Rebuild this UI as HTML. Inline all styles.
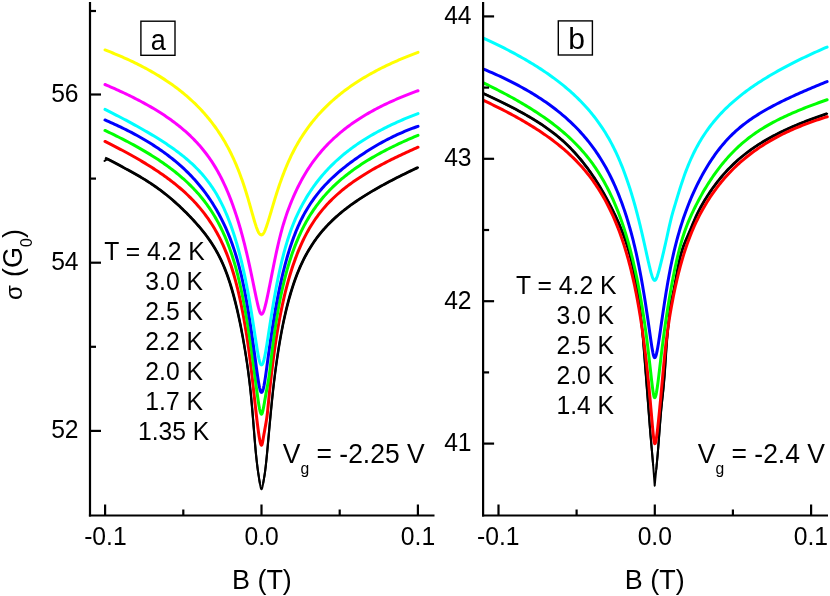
<!DOCTYPE html>
<html><head><meta charset="utf-8"><title>Magnetoconductance</title>
<style>
html,body{margin:0;padding:0;background:#fff;}
svg{display:block;}
text{font-family:"Liberation Sans",sans-serif;fill:#000;filter:grayscale(1);}
</style></head><body>
<svg width="830" height="596" viewBox="0 0 830 596">
<rect x="0" y="0" width="830" height="596" fill="#fff"/>

<g fill="none" stroke-width="3.0" stroke-linejoin="round" stroke-linecap="round">
<polyline points="104.50,161.00 105.60,160.20 106.70,159.40 107.80,158.90 108.91,159.71 110.85,160.66 112.78,161.66 114.69,162.69 116.59,163.71 118.48,164.73 120.35,165.78 122.22,166.83 124.07,167.87 125.91,168.87 127.73,169.85 129.55,170.83 131.35,171.81 133.14,172.80 134.91,173.80 136.68,174.80 138.43,175.81 140.17,176.83 141.89,177.85 143.61,178.88 145.31,179.93 147.00,180.98 148.68,182.05 150.34,183.14 152.00,184.24 153.64,185.35 155.27,186.48 156.88,187.62 158.49,188.78 160.08,189.95 161.65,191.13 163.22,192.33 164.77,193.54 166.32,194.77 167.85,196.01 169.36,197.26 170.87,198.52 172.36,199.79 173.84,201.08 175.30,202.38 176.76,203.69 178.20,205.01 179.63,206.33 181.05,207.67 182.45,209.02 183.85,210.38 185.23,211.74 186.60,213.11 187.95,214.49 189.29,215.87 190.63,217.26 191.94,218.65 193.25,220.05 194.54,221.46 195.83,222.88 197.09,224.30 198.35,225.74 199.60,227.19 200.83,228.66 202.05,230.14 203.25,231.64 204.45,233.16 205.63,234.70 206.80,236.26 207.96,237.85 209.10,239.46 210.24,241.10 211.36,242.78 212.47,244.49 213.56,246.23 214.64,248.02 215.72,249.84 216.77,251.71 217.82,253.63 218.85,255.60 219.88,257.61 220.88,259.69 221.88,261.82 222.87,264.02 223.84,266.28 224.80,268.61 225.74,271.02 226.68,273.50 227.60,276.06 228.51,278.69 229.41,281.39 230.29,284.16 231.17,287.01 232.03,289.93 232.88,292.91 233.71,295.96 234.53,299.08 235.35,302.26 236.14,305.50 236.93,308.80 237.70,312.15 238.47,315.56 239.21,319.03 239.95,322.55 240.68,326.12 241.39,329.74 242.09,333.42 242.77,337.15 243.45,340.93 244.11,344.76 244.76,348.64 245.40,352.57 246.02,356.54 246.64,360.57 247.24,364.67 247.83,368.85 248.40,373.14 248.96,377.55 249.52,382.10 250.05,386.82 250.58,391.71 251.09,396.80 251.60,402.10 252.08,407.59 252.56,413.19 253.03,418.82 253.48,424.43 253.92,429.93 254.34,435.26 254.76,440.35 255.16,445.13 255.55,449.55 255.93,453.57 256.29,457.20 256.65,460.49 256.99,463.47 257.32,466.17 257.63,468.62 257.93,470.85 258.23,472.88 258.50,474.73 258.77,476.45 259.02,478.06 259.27,479.56 259.49,480.97 259.71,482.28 259.92,483.49 260.11,484.58 260.29,485.55 260.45,486.39 260.61,487.10 260.75,487.68 260.88,488.14 261.00,488.50 261.10,488.76 261.20,488.94 261.28,489.06 261.35,489.13 261.40,489.17 261.44,489.19 261.48,489.20 261.49,489.20 261.50,489.20 261.51,489.20 261.52,489.20 261.56,489.19 261.60,489.17 261.65,489.13 261.72,489.06 261.80,488.94 261.90,488.76 262.00,488.50 262.12,488.15 262.25,487.70 262.39,487.13 262.55,486.44 262.71,485.63 262.89,484.71 263.08,483.68 263.29,482.56 263.51,481.34 263.73,480.04 263.98,478.65 264.23,477.15 264.50,475.50 264.77,473.66 265.07,471.57 265.37,469.19 265.68,466.52 266.01,463.56 266.35,460.32 266.71,456.81 267.07,453.05 267.45,449.04 267.84,444.82 268.24,440.41 268.66,435.83 269.08,431.10 269.52,426.26 269.97,421.34 270.44,416.35 270.92,411.33 271.40,406.31 271.91,401.31 272.42,396.37 272.95,391.49 273.48,386.69 274.04,381.96 274.60,377.30 275.17,372.72 275.76,368.22 276.36,363.80 276.98,359.47 277.60,355.21 278.24,351.04 278.89,346.94 279.55,342.93 280.23,339.00 280.91,335.15 281.61,331.38 282.32,327.70 283.05,324.09 283.79,320.56 284.53,317.10 285.30,313.73 286.07,310.42 286.86,307.20 287.65,304.04 288.47,300.96 289.29,297.95 290.12,295.01 290.97,292.14 291.83,289.33 292.71,286.59 293.59,283.92 294.49,281.31 295.40,278.76 296.32,276.28 297.26,273.86 298.20,271.49 299.16,269.18 300.13,266.93 301.12,264.74 302.12,262.60 303.12,260.50 304.15,258.46 305.18,256.47 306.23,254.52 307.28,252.61 308.36,250.75 309.44,248.93 310.53,247.15 311.64,245.40 312.76,243.70 313.90,242.02 315.04,240.39 316.20,238.78 317.37,237.21 318.55,235.66 319.75,234.15 320.95,232.66 322.17,231.21 323.40,229.77 324.65,228.36 325.91,226.98 327.17,225.62 328.46,224.28 329.75,222.96 331.06,221.66 332.37,220.39 333.71,219.13 335.05,217.88 336.40,216.66 337.77,215.45 339.15,214.26 340.55,213.08 341.95,211.92 343.37,210.77 344.80,209.64 346.24,208.52 347.70,207.41 349.16,206.31 350.64,205.22 352.13,204.15 353.64,203.08 355.15,202.02 356.68,200.98 358.23,199.94 359.78,198.91 361.35,197.88 362.92,196.87 364.51,195.86 366.12,194.86 367.73,193.86 369.36,192.87 371.00,191.89 372.66,190.91 374.32,189.94 376.00,188.97 377.69,188.01 379.39,187.05 381.11,186.09 382.83,185.14 384.57,184.19 386.32,183.24 388.09,182.30 389.86,181.36 391.65,180.42 393.45,179.49 395.27,178.55 397.09,177.62 398.93,176.69 400.78,175.76 402.65,174.83 404.52,173.91 406.41,172.98 408.31,172.06 410.22,171.13 412.15,170.21 414.09,169.28 416.04,168.36 418.00,167.44" stroke="#000000" stroke-width="2.0"/>
<polygon points="260.92,483.32 260.72,482.12 260.51,480.81 260.28,479.40 260.05,477.90 259.80,476.29 259.53,474.58 259.26,472.72 258.98,470.70 258.68,468.48 258.37,466.04 258.04,463.35 257.71,460.38 257.36,457.09 257.00,453.46 256.63,449.45 256.25,445.04 255.85,440.26 255.44,435.17 255.02,429.84 254.59,424.34 254.14,418.73 253.68,413.09 253.21,407.49 252.73,402.00 252.24,396.69 251.73,391.59 251.21,386.69 250.68,381.97 250.13,377.41 249.58,372.98 249.01,368.69 248.43,364.50 247.84,360.39 247.23,356.36 246.61,352.37 245.98,348.44 245.34,344.55 244.69,340.71 244.02,336.92 243.34,333.18 242.65,329.50 241.95,325.86 241.23,322.28 240.50,318.75 239.76,315.28 239.01,311.86 238.25,308.49 237.47,305.18 236.68,301.92 235.88,298.73 235.06,295.60 234.22,292.53 233.37,289.54 232.51,286.61 231.63,283.75 230.74,280.96 229.84,278.24 228.92,275.59 227.99,273.02 227.05,270.52 226.10,268.09 225.13,265.74 224.15,263.46 223.15,261.24 222.15,259.09 221.13,256.99 220.10,254.95 219.05,252.97 218.00,251.03 216.93,249.14 215.85,247.30 214.75,245.50 213.65,243.74 212.53,242.01 211.40,240.32 210.25,238.66 209.10,237.03 207.93,235.43 206.75,233.85 205.55,232.30 204.35,230.77 203.13,229.26 201.90,227.76 200.66,226.29 199.41,224.83 198.14,223.38 196.87,221.94 195.58,220.52 194.28,219.10 192.96,217.70 191.64,216.29 190.30,214.90 188.95,213.51 187.59,212.12 186.22,210.75 184.83,209.38 183.43,208.01 182.01,206.66 180.59,205.31 179.15,203.98 177.70,202.65 176.24,201.33 174.76,200.03 173.27,198.73 171.77,197.45 170.26,196.18 168.73,194.92 167.19,193.68 165.64,192.44 164.08,191.22 162.50,190.02 160.91,188.82 159.31,187.65 157.70,186.48 156.07,185.33 154.43,184.20 152.78,183.08 151.11,181.97 149.44,180.88 147.75,179.80 146.05,178.74 144.34,177.68 142.61,176.65 140.88,175.62 139.13,174.60 137.37,173.59 135.60,172.58 133.82,171.58 132.02,170.58 130.21,169.59 128.39,168.61 126.57,167.64 124.75,166.64 122.90,165.61 121.04,164.56 119.15,163.50 117.25,162.47 115.35,161.46 113.43,160.43 111.48,159.41 109.50,158.44 107.52,157.56 105.54,156.73 104.46,159.31 106.41,160.13 108.32,160.98 110.22,161.91 112.12,162.90 114.03,163.92 115.92,164.94 117.80,165.96 119.67,167.00 121.53,168.05 123.39,169.09 125.24,170.11 127.07,171.08 128.88,172.06 130.67,173.04 132.45,174.02 134.22,175.02 135.98,176.02 137.73,177.02 139.46,178.03 141.18,179.05 142.88,180.08 144.57,181.12 146.25,182.17 147.92,183.23 149.58,184.31 151.22,185.40 152.85,186.51 154.46,187.63 156.07,188.76 157.66,189.91 159.24,191.07 160.81,192.25 162.36,193.44 163.91,194.64 165.44,195.86 166.96,197.09 168.47,198.33 169.96,199.59 171.44,200.85 172.91,202.13 174.37,203.42 175.82,204.72 177.25,206.04 178.67,207.36 180.08,208.69 181.48,210.03 182.87,211.38 184.24,212.73 185.60,214.10 186.95,215.47 188.29,216.84 189.61,218.23 190.92,219.61 192.22,221.01 193.51,222.41 194.78,223.81 196.04,225.23 197.29,226.66 198.53,228.10 199.75,229.55 200.96,231.02 202.16,232.51 203.34,234.02 204.52,235.54 205.68,237.09 206.82,238.66 207.96,240.26 209.08,241.89 210.19,243.55 211.29,245.24 212.37,246.97 213.44,248.74 214.50,250.54 215.55,252.39 216.59,254.29 217.61,256.24 218.62,258.24 219.62,260.29 220.61,262.41 221.58,264.58 222.55,266.82 223.50,269.14 224.44,271.52 225.37,273.98 226.28,276.52 227.19,279.14 228.08,281.82 228.96,284.58 229.83,287.41 230.68,290.32 231.53,293.29 232.36,296.33 233.19,299.43 234.01,302.59 234.82,305.82 235.61,309.11 236.40,312.45 237.17,315.85 237.92,319.30 238.67,322.81 239.40,326.37 240.12,329.99 240.83,333.65 241.53,337.37 242.21,341.14 242.88,344.97 243.54,348.84 244.18,352.76 244.82,356.73 245.44,360.75 246.05,364.84 246.64,369.01 247.22,373.29 247.79,377.70 248.35,382.24 248.90,386.95 249.43,391.83 249.95,396.91 250.46,402.21 250.95,407.69 251.44,413.28 251.91,418.91 252.37,424.52 252.81,430.02 253.25,435.35 253.67,440.44 254.07,445.22 254.47,449.65 254.85,453.67 255.23,457.31 255.58,460.61 255.93,463.60 256.26,466.30 256.58,468.76 256.89,470.99 257.19,473.03 257.47,474.89 257.74,476.61 258.00,478.22 258.25,479.73 258.48,481.14 258.70,482.45 258.91,483.66" fill="#000000" stroke="none"/>
<polygon points="264.09,483.86 264.30,482.74 264.52,481.52 264.75,480.22 265.00,478.83 265.26,477.32 265.53,475.66 265.81,473.81 266.11,471.71 266.42,469.32 266.74,466.64 267.07,463.68 267.42,460.43 267.78,456.92 268.15,453.15 268.53,449.15 268.92,444.92 269.33,440.51 269.75,435.93 270.19,431.20 270.63,426.36 271.09,421.44 271.56,416.45 272.04,411.44 272.54,406.42 273.05,401.43 273.57,396.49 274.10,391.62 274.65,386.82 275.21,382.09 275.78,377.45 276.36,372.87 276.96,368.38 277.56,363.97 278.18,359.64 278.82,355.39 279.46,351.23 280.12,347.14 280.79,343.14 281.47,339.22 282.17,335.38 282.88,331.62 283.60,327.95 284.33,324.35 285.08,320.83 285.83,317.39 286.60,314.03 287.38,310.74 288.18,307.52 288.98,304.39 289.80,301.32 290.63,298.33 291.47,295.40 292.31,292.54 293.17,289.75 294.04,287.03 294.92,284.37 295.81,281.77 296.71,279.24 297.63,276.78 298.56,274.37 299.50,272.02 300.45,269.73 301.42,267.50 302.39,265.32 303.38,263.19 304.38,261.12 305.39,259.10 306.42,257.12 307.45,255.19 308.50,253.30 309.56,251.46 310.64,249.65 311.72,247.89 312.82,246.16 313.93,244.47 315.05,242.82 316.18,241.20 317.33,239.61 318.49,238.05 319.66,236.52 320.84,235.03 322.03,233.55 323.24,232.11 324.46,230.69 325.69,229.30 326.94,227.93 328.19,226.58 329.46,225.25 330.74,223.95 332.04,222.66 333.34,221.40 334.66,220.15 335.99,218.92 337.34,217.70 338.69,216.51 340.06,215.33 341.44,214.16 342.84,213.01 344.24,211.87 345.66,210.74 347.10,209.63 348.54,208.53 350.00,207.43 351.47,206.35 352.95,205.29 354.44,204.23 355.95,203.18 357.47,202.13 359.00,201.10 360.55,200.08 362.11,199.06 363.68,198.05 365.26,197.04 366.86,196.05 368.46,195.06 370.09,194.07 371.72,193.09 373.36,192.12 375.02,191.15 376.69,190.18 378.38,189.22 380.07,188.27 381.78,187.32 383.51,186.37 385.24,185.42 386.99,184.48 388.75,183.54 390.52,182.60 392.30,181.66 394.10,180.73 395.91,179.80 397.73,178.87 399.56,177.94 401.41,177.01 403.27,176.09 405.14,175.16 407.03,174.24 408.92,173.32 410.83,172.39 412.75,171.47 414.69,170.55 416.64,169.63 418.60,168.70 417.40,166.17 415.44,167.09 413.49,168.02 411.55,168.94 409.62,169.87 407.70,170.80 405.80,171.72 403.91,172.65 402.03,173.58 400.16,174.51 398.30,175.44 396.46,176.37 394.63,177.31 392.81,178.24 391.01,179.18 389.21,180.12 387.43,181.06 385.66,182.01 383.90,182.96 382.16,183.91 380.43,184.87 378.71,185.83 377.00,186.79 375.30,187.76 373.62,188.73 371.95,189.71 370.29,190.69 368.64,191.68 367.00,192.67 365.38,193.67 363.77,194.67 362.17,195.69 360.58,196.71 359.01,197.74 357.45,198.77 355.90,199.82 354.36,200.87 352.83,201.93 351.32,203.01 349.82,204.09 348.33,205.19 346.85,206.29 345.39,207.41 343.93,208.54 342.49,209.68 341.06,210.84 339.65,212.01 338.24,213.20 336.85,214.40 335.47,215.62 334.10,216.85 332.75,218.10 331.41,219.37 330.07,220.66 328.76,221.97 327.45,223.30 326.16,224.66 324.87,226.03 323.61,227.43 322.35,228.85 321.10,230.30 319.87,231.77 318.65,233.28 317.45,234.81 316.25,236.36 315.07,237.95 313.90,239.58 312.74,241.23 311.60,242.92 310.47,244.64 309.35,246.40 308.24,248.20 307.15,250.04 306.07,251.92 305.00,253.85 303.94,255.81 302.90,257.83 301.87,259.89 300.85,262.00 299.85,264.16 298.85,266.37 297.87,268.64 296.91,270.96 295.95,273.34 295.01,275.78 294.08,278.29 293.17,280.85 292.26,283.47 291.37,286.16 290.50,288.91 289.63,291.73 288.78,294.62 287.94,297.57 287.13,300.60 286.32,303.70 285.53,306.87 284.76,310.11 283.99,313.43 283.24,316.82 282.50,320.28 281.77,323.82 281.05,327.45 280.35,331.15 279.66,334.92 278.98,338.78 278.31,342.72 277.66,346.74 277.01,350.84 276.38,355.03 275.77,359.29 275.16,363.64 274.57,368.06 273.99,372.57 273.42,377.15 272.86,381.82 272.32,386.55 271.79,391.37 271.27,396.25 270.76,401.20 270.27,406.20 269.79,411.22 269.32,416.24 268.86,421.23 268.41,426.16 267.98,431.00 267.56,435.73 267.15,440.31 266.75,444.72 266.37,448.94 266.00,452.94 265.64,456.71 265.29,460.21 264.95,463.45 264.63,466.40 264.32,469.07 264.02,471.43 263.74,473.51 263.47,475.34 263.20,476.98 262.96,478.48 262.72,479.87 262.49,481.16 262.28,482.37 262.08,483.50" fill="#000000" stroke="none"/>
<polyline points="105.00,141.46 106.96,142.43 108.91,143.41 110.85,144.38 112.78,145.36 114.69,146.34 116.59,147.33 118.48,148.31 120.35,149.30 122.22,150.28 124.07,151.27 125.91,152.27 127.73,153.26 129.55,154.26 131.35,155.26 133.14,156.26 134.91,157.27 136.68,158.28 138.43,159.30 140.17,160.31 141.89,161.34 143.61,162.36 145.31,163.39 147.00,164.43 148.68,165.47 150.34,166.51 152.00,167.56 153.64,168.62 155.27,169.68 156.88,170.75 158.49,171.83 160.08,172.91 161.65,174.00 163.22,175.10 164.77,176.20 166.32,177.32 167.85,178.44 169.36,179.57 170.87,180.71 172.36,181.86 173.84,183.02 175.30,184.19 176.76,185.37 178.20,186.56 179.63,187.77 181.05,188.99 182.45,190.22 183.85,191.46 185.23,192.72 186.60,193.99 187.95,195.27 189.29,196.58 190.63,197.90 191.94,199.23 193.25,200.58 194.54,201.96 195.83,203.35 197.09,204.75 198.35,206.18 199.60,207.64 200.83,209.11 202.05,210.60 203.25,212.12 204.45,213.67 205.63,215.24 206.80,216.83 207.96,218.45 209.10,220.11 210.24,221.79 211.36,223.50 212.47,225.24 213.56,227.01 214.64,228.82 215.72,230.67 216.77,232.55 217.82,234.46 218.85,236.42 219.88,238.42 220.88,240.45 221.88,242.53 222.87,244.66 223.84,246.83 224.80,249.05 225.74,251.32 226.68,253.64 227.60,256.01 228.51,258.44 229.41,260.93 230.29,263.47 231.17,266.07 232.03,268.74 232.88,271.46 233.71,274.26 234.53,277.12 235.35,280.04 236.14,283.03 236.93,286.08 237.70,289.20 238.47,292.38 239.21,295.62 239.95,298.92 240.68,302.28 241.39,305.70 242.09,309.18 242.77,312.72 243.45,316.31 244.11,319.96 244.76,323.66 245.40,327.42 246.02,331.24 246.64,335.11 247.24,339.03 247.83,343.01 248.40,347.05 248.96,351.14 249.52,355.28 250.05,359.47 250.58,363.71 251.09,367.96 251.60,372.22 252.08,376.47 252.56,380.69 253.03,384.86 253.48,388.97 253.92,393.00 254.34,396.92 254.76,400.72 255.16,404.39 255.55,407.92 255.93,411.29 256.29,414.50 256.65,417.54 256.99,420.42 257.32,423.12 257.63,425.65 257.93,428.00 258.23,430.18 258.50,432.20 258.77,434.04 259.02,435.72 259.27,437.24 259.49,438.60 259.71,439.81 259.92,440.86 260.11,441.77 260.29,442.55 260.45,443.19 260.61,443.72 260.75,444.14 260.88,444.47 261.00,444.72 261.10,444.90 261.20,445.02 261.28,445.10 261.35,445.15 261.40,445.18 261.44,445.19 261.48,445.20 261.49,445.20 261.50,445.20 261.51,445.20 261.52,445.20 261.56,445.19 261.60,445.17 261.65,445.13 261.72,445.05 261.80,444.92 261.90,444.72 262.00,444.44 262.12,444.06 262.25,443.57 262.39,442.96 262.55,442.22 262.71,441.36 262.89,440.37 263.08,439.28 263.29,438.09 263.51,436.82 263.73,435.48 263.98,434.09 264.23,432.65 264.50,431.16 264.77,429.63 265.07,428.04 265.37,426.38 265.68,424.63 266.01,422.78 266.35,420.75 266.71,418.45 267.07,415.78 267.45,412.63 267.84,408.95 268.24,404.88 268.66,400.57 269.08,396.18 269.52,391.80 269.97,387.43 270.44,383.08 270.92,378.76 271.40,374.47 271.91,370.21 272.42,365.99 272.95,361.81 273.48,357.67 274.04,353.58 274.60,349.53 275.17,345.54 275.76,341.60 276.36,337.71 276.98,333.87 277.60,330.09 278.24,326.36 278.89,322.69 279.55,319.08 280.23,315.53 280.91,312.03 281.61,308.59 282.32,305.20 283.05,301.88 283.79,298.61 284.53,295.40 285.30,292.24 286.07,289.14 286.86,286.10 287.65,283.11 288.47,280.18 289.29,277.30 290.12,274.47 290.97,271.70 291.83,268.98 292.71,266.32 293.59,263.70 294.49,261.14 295.40,258.63 296.32,256.16 297.26,253.75 298.20,251.38 299.16,249.06 300.13,246.79 301.12,244.56 302.12,242.38 303.12,240.25 304.15,238.16 305.18,236.11 306.23,234.11 307.28,232.14 308.36,230.22 309.44,228.34 310.53,226.50 311.64,224.71 312.76,222.94 313.90,221.22 315.04,219.53 316.20,217.88 317.37,216.26 318.55,214.67 319.75,213.11 320.95,211.58 322.17,210.09 323.40,208.61 324.65,207.17 325.91,205.75 327.17,204.36 328.46,202.99 329.75,201.64 331.06,200.32 332.37,199.01 333.71,197.73 335.05,196.47 336.40,195.23 337.77,194.00 339.15,192.79 340.55,191.60 341.95,190.43 343.37,189.27 344.80,188.13 346.24,187.00 347.70,185.89 349.16,184.79 350.64,183.70 352.13,182.62 353.64,181.56 355.15,180.51 356.68,179.47 358.23,178.44 359.78,177.42 361.35,176.41 362.92,175.40 364.51,174.41 366.12,173.43 367.73,172.45 369.36,171.48 371.00,170.52 372.66,169.57 374.32,168.62 376.00,167.68 377.69,166.74 379.39,165.82 381.11,164.89 382.83,163.97 384.57,163.06 386.32,162.15 388.09,161.25 389.86,160.35 391.65,159.45 393.45,158.56 395.27,157.67 397.09,156.79 398.93,155.91 400.78,155.03 402.65,154.15 404.52,153.28 406.41,152.41 408.31,151.54 410.22,150.67 412.15,149.81 414.09,148.94 416.04,148.08 418.00,147.22" stroke="#ff0000"/>
<polyline points="105.00,130.47 106.96,131.40 108.91,132.33 110.85,133.27 112.78,134.20 114.69,135.14 116.59,136.08 118.48,137.02 120.35,137.97 122.22,138.92 124.07,139.87 125.91,140.83 127.73,141.79 129.55,142.75 131.35,143.72 133.14,144.69 134.91,145.66 136.68,146.64 138.43,147.62 140.17,148.61 141.89,149.61 143.61,150.60 145.31,151.61 147.00,152.62 148.68,153.63 150.34,154.65 152.00,155.68 153.64,156.72 155.27,157.76 156.88,158.80 158.49,159.86 160.08,160.92 161.65,161.99 163.22,163.07 164.77,164.16 166.32,165.26 167.85,166.36 169.36,167.48 170.87,168.60 172.36,169.74 173.84,170.89 175.30,172.04 176.76,173.21 178.20,174.39 179.63,175.58 181.05,176.79 182.45,178.01 183.85,179.24 185.23,180.49 186.60,181.75 187.95,183.03 189.29,184.32 190.63,185.63 191.94,186.95 193.25,188.30 194.54,189.66 195.83,191.04 197.09,192.44 198.35,193.86 199.60,195.30 200.83,196.76 202.05,198.25 203.25,199.76 204.45,201.29 205.63,202.84 206.80,204.43 207.96,206.03 209.10,207.67 210.24,209.33 211.36,211.03 212.47,212.75 213.56,214.50 214.64,216.29 215.72,218.11 216.77,219.97 217.82,221.86 218.85,223.79 219.88,225.75 220.88,227.76 221.88,229.80 222.87,231.89 223.84,234.02 224.80,236.20 225.74,238.42 226.68,240.68 227.60,243.00 228.51,245.36 229.41,247.77 230.29,250.24 231.17,252.76 232.03,255.33 232.88,257.96 233.71,260.64 234.53,263.39 235.35,266.19 236.14,269.06 236.93,271.99 237.70,274.98 238.47,278.03 239.21,281.14 239.95,284.31 240.68,287.53 241.39,290.81 242.09,294.13 242.77,297.51 243.45,300.92 244.11,304.38 244.76,307.88 245.40,311.40 246.02,314.96 246.64,318.54 247.24,322.15 247.83,325.77 248.40,329.40 248.96,333.04 249.52,336.68 250.05,340.31 250.58,343.94 251.09,347.55 251.60,351.13 252.08,354.68 252.56,358.20 253.03,361.68 253.48,365.10 253.92,368.45 254.34,371.74 254.76,374.95 255.16,378.07 255.55,381.09 255.93,384.01 256.29,386.82 256.65,389.50 256.99,392.06 257.32,394.48 257.63,396.76 257.93,398.90 258.23,400.88 258.50,402.72 258.77,404.40 259.02,405.92 259.27,407.29 259.49,408.51 259.71,409.58 259.92,410.51 260.11,411.30 260.29,411.97 260.45,412.52 260.61,412.97 260.75,413.33 260.88,413.60 261.00,413.80 261.10,413.95 261.20,414.05 261.28,414.12 261.35,414.16 261.40,414.18 261.44,414.20 261.48,414.20 261.49,414.20 261.50,414.20 261.51,414.20 261.52,414.20 261.56,414.19 261.60,414.18 261.65,414.15 261.72,414.10 261.80,414.01 261.90,413.88 262.00,413.69 262.12,413.43 262.25,413.08 262.39,412.64 262.55,412.10 262.71,411.44 262.89,410.67 263.08,409.77 263.29,408.76 263.51,407.64 263.73,406.41 263.98,405.08 264.23,403.65 264.50,402.14 264.77,400.54 265.07,398.88 265.37,397.16 265.68,395.38 266.01,393.55 266.35,391.67 266.71,389.75 267.07,387.79 267.45,385.79 267.84,383.73 268.24,381.53 268.66,379.10 269.08,376.35 269.52,373.20 269.97,369.59 270.44,365.63 270.92,361.42 271.40,357.10 271.91,352.77 272.42,348.50 272.95,344.29 273.48,340.14 274.04,336.05 274.60,332.03 275.17,328.07 275.76,324.18 276.36,320.35 276.98,316.59 277.60,312.89 278.24,309.26 278.89,305.70 279.55,302.20 280.23,298.77 280.91,295.41 281.61,292.10 282.32,288.86 283.05,285.69 283.79,282.57 284.53,279.52 285.30,276.53 286.07,273.59 286.86,270.71 287.65,267.89 288.47,265.13 289.29,262.42 290.12,259.76 290.97,257.16 291.83,254.60 292.71,252.10 293.59,249.65 294.49,247.25 295.40,244.89 296.32,242.58 297.26,240.31 298.20,238.09 299.16,235.92 300.13,233.78 301.12,231.69 302.12,229.64 303.12,227.63 304.15,225.65 305.18,223.72 306.23,221.82 307.28,219.95 308.36,218.13 309.44,216.33 310.53,214.57 311.64,212.84 312.76,211.14 313.90,209.47 315.04,207.82 316.20,206.21 317.37,204.62 318.55,203.06 319.75,201.53 320.95,200.02 322.17,198.54 323.40,197.07 324.65,195.63 325.91,194.22 327.17,192.82 328.46,191.45 329.75,190.09 331.06,188.76 332.37,187.44 333.71,186.15 335.05,184.87 336.40,183.60 337.77,182.36 339.15,181.13 340.55,179.92 341.95,178.72 343.37,177.54 344.80,176.37 346.24,175.22 347.70,174.08 349.16,172.95 350.64,171.83 352.13,170.73 353.64,169.64 355.15,168.57 356.68,167.50 358.23,166.45 359.78,165.40 361.35,164.37 362.92,163.34 364.51,162.33 366.12,161.33 367.73,160.33 369.36,159.35 371.00,158.37 372.66,157.40 374.32,156.44 376.00,155.49 377.69,154.54 379.39,153.61 381.11,152.68 382.83,151.75 384.57,150.84 386.32,149.93 388.09,149.03 389.86,148.13 391.65,147.24 393.45,146.35 395.27,145.48 397.09,144.60 398.93,143.73 400.78,142.87 402.65,142.01 404.52,141.16 406.41,140.31 408.31,139.47 410.22,138.63 412.15,137.80 414.09,136.97 416.04,136.14 418.00,135.32" stroke="#00ff00"/>
<polyline points="105.00,119.98 106.96,120.82 108.91,121.68 110.85,122.54 112.78,123.40 114.69,124.27 116.59,125.15 118.48,126.04 120.35,126.93 122.22,127.83 124.07,128.74 125.91,129.65 127.73,130.57 129.55,131.50 131.35,132.44 133.14,133.38 134.91,134.33 136.68,135.29 138.43,136.26 140.17,137.24 141.89,138.22 143.61,139.22 145.31,140.22 147.00,141.23 148.68,142.25 150.34,143.28 152.00,144.32 153.64,145.37 155.27,146.43 156.88,147.50 158.49,148.58 160.08,149.67 161.65,150.77 163.22,151.88 164.77,153.00 166.32,154.14 167.85,155.29 169.36,156.44 170.87,157.61 172.36,158.79 173.84,159.99 175.30,161.20 176.76,162.42 178.20,163.65 179.63,164.90 181.05,166.16 182.45,167.43 183.85,168.72 185.23,170.03 186.60,171.35 187.95,172.68 189.29,174.03 190.63,175.40 191.94,176.78 193.25,178.18 194.54,179.60 195.83,181.03 197.09,182.49 198.35,183.96 199.60,185.45 200.83,186.95 202.05,188.48 203.25,190.03 204.45,191.60 205.63,193.19 206.80,194.80 207.96,196.43 209.10,198.08 210.24,199.76 211.36,201.46 212.47,203.18 213.56,204.93 214.64,206.70 215.72,208.50 216.77,210.32 217.82,212.17 218.85,214.04 219.88,215.95 220.88,217.88 221.88,219.84 222.87,221.83 223.84,223.85 224.80,225.90 225.74,227.98 226.68,230.10 227.60,232.25 228.51,234.43 229.41,236.65 230.29,238.91 231.17,241.21 232.03,243.56 232.88,245.95 233.71,248.38 234.53,250.86 235.35,253.40 236.14,255.98 236.93,258.62 237.70,261.32 238.47,264.07 239.21,266.88 239.95,269.76 240.68,272.70 241.39,275.71 242.09,278.77 242.77,281.90 243.45,285.07 244.11,288.30 244.76,291.57 245.40,294.88 246.02,298.24 246.64,301.62 247.24,305.04 247.83,308.48 248.40,311.93 248.96,315.40 249.52,318.88 250.05,322.35 250.58,325.82 251.09,329.27 251.60,332.70 252.08,336.11 252.56,339.48 253.03,342.81 253.48,346.08 253.92,349.30 254.34,352.45 254.76,355.52 255.16,358.51 255.55,361.41 255.93,364.21 256.29,366.89 256.65,369.45 256.99,371.89 257.32,374.20 257.63,376.36 257.93,378.38 258.23,380.25 258.50,381.96 258.77,383.53 259.02,384.94 259.27,386.20 259.49,387.32 259.71,388.29 259.92,389.13 260.11,389.85 260.29,390.44 260.45,390.93 260.61,391.33 260.75,391.64 260.88,391.88 261.00,392.06 261.10,392.19 261.20,392.27 261.28,392.33 261.35,392.37 261.40,392.39 261.44,392.40 261.48,392.40 261.49,392.40 261.50,392.40 261.51,392.40 261.52,392.40 261.56,392.40 261.60,392.39 261.65,392.37 261.72,392.34 261.80,392.29 261.90,392.22 262.00,392.11 262.12,391.96 262.25,391.76 262.39,391.49 262.55,391.16 262.71,390.73 262.89,390.21 263.08,389.57 263.29,388.82 263.51,387.93 263.73,386.90 263.98,385.72 264.23,384.38 264.50,382.88 264.77,381.21 265.07,379.38 265.37,377.38 265.68,375.23 266.01,372.93 266.35,370.48 266.71,367.90 267.07,365.20 267.45,362.39 267.84,359.48 268.24,356.50 268.66,353.45 269.08,350.34 269.52,347.18 269.97,343.99 270.44,340.75 270.92,337.49 271.40,334.20 271.91,330.89 272.42,327.57 272.95,324.24 273.48,320.91 274.04,317.57 274.60,314.24 275.17,310.91 275.76,307.60 276.36,304.30 276.98,301.02 277.60,297.76 278.24,294.52 278.89,291.31 279.55,288.13 280.23,284.98 280.91,281.85 281.61,278.77 282.32,275.72 283.05,272.71 283.79,269.74 284.53,266.80 285.30,263.91 286.07,261.07 286.86,258.27 287.65,255.51 288.47,252.80 289.29,250.13 290.12,247.52 290.97,244.95 291.83,242.43 292.71,239.95 293.59,237.53 294.49,235.16 295.40,232.83 296.32,230.56 297.26,228.34 298.20,226.17 299.16,224.04 300.13,221.97 301.12,219.94 302.12,217.96 303.12,216.02 304.15,214.12 305.18,212.27 306.23,210.45 307.28,208.67 308.36,206.92 309.44,205.21 310.53,203.53 311.64,201.89 312.76,200.28 313.90,198.69 315.04,197.13 316.20,195.61 317.37,194.10 318.55,192.63 319.75,191.17 320.95,189.74 322.17,188.33 323.40,186.95 324.65,185.58 325.91,184.24 327.17,182.91 328.46,181.60 329.75,180.31 331.06,179.03 332.37,177.77 333.71,176.53 335.05,175.30 336.40,174.08 337.77,172.88 339.15,171.69 340.55,170.51 341.95,169.35 343.37,168.19 344.80,167.05 346.24,165.91 347.70,164.78 349.16,163.67 350.64,162.56 352.13,161.46 353.64,160.37 355.15,159.28 356.68,158.20 358.23,157.13 359.78,156.07 361.35,155.01 362.92,153.95 364.51,152.90 366.12,151.86 367.73,150.83 369.36,149.80 371.00,148.78 372.66,147.77 374.32,146.77 376.00,145.77 377.69,144.79 379.39,143.82 381.11,142.85 382.83,141.90 384.57,140.96 386.32,140.04 388.09,139.12 389.86,138.22 391.65,137.33 393.45,136.45 395.27,135.59 397.09,134.73 398.93,133.90 400.78,133.08 402.65,132.27 404.52,131.48 406.41,130.70 408.31,129.93 410.22,129.19 412.15,128.45 414.09,127.74 416.04,127.03 418.00,126.35" stroke="#0000ff"/>
<polyline points="105.00,109.36 106.96,110.36 108.91,111.35 110.85,112.34 112.78,113.33 114.69,114.32 116.59,115.30 118.48,116.29 120.35,117.27 122.22,118.25 124.07,119.23 125.91,120.20 127.73,121.18 129.55,122.15 131.35,123.13 133.14,124.10 134.91,125.08 136.68,126.05 138.43,127.02 140.17,128.00 141.89,128.97 143.61,129.95 145.31,130.93 147.00,131.90 148.68,132.88 150.34,133.87 152.00,134.85 153.64,135.84 155.27,136.83 156.88,137.82 158.49,138.81 160.08,139.81 161.65,140.82 163.22,141.83 164.77,142.84 166.32,143.86 167.85,144.89 169.36,145.92 170.87,146.96 172.36,148.00 173.84,149.06 175.30,150.12 176.76,151.19 178.20,152.27 179.63,153.36 181.05,154.46 182.45,155.57 183.85,156.70 185.23,157.83 186.60,158.98 187.95,160.14 189.29,161.32 190.63,162.51 191.94,163.72 193.25,164.95 194.54,166.19 195.83,167.46 197.09,168.74 198.35,170.04 199.60,171.36 200.83,172.71 202.05,174.08 203.25,175.48 204.45,176.90 205.63,178.34 206.80,179.82 207.96,181.32 209.10,182.86 210.24,184.43 211.36,186.03 212.47,187.66 213.56,189.33 214.64,191.04 215.72,192.79 216.77,194.58 217.82,196.40 218.85,198.27 219.88,200.18 220.88,202.13 221.88,204.12 222.87,206.15 223.84,208.22 224.80,210.34 225.74,212.49 226.68,214.69 227.60,216.93 228.51,219.21 229.41,221.53 230.29,223.89 231.17,226.30 232.03,228.75 232.88,231.23 233.71,233.76 234.53,236.33 235.35,238.94 236.14,241.59 236.93,244.27 237.70,247.00 238.47,249.76 239.21,252.56 239.95,255.39 240.68,258.26 241.39,261.16 242.09,264.10 242.77,267.06 243.45,270.05 244.11,273.07 244.76,276.11 245.40,279.18 246.02,282.27 246.64,285.37 247.24,288.48 247.83,291.61 248.40,294.74 248.96,297.88 249.52,301.02 250.05,304.15 250.58,307.27 251.09,310.38 251.60,313.47 252.08,316.53 252.56,319.55 253.03,322.54 253.48,325.47 253.92,328.34 254.34,331.14 254.76,333.87 255.16,336.51 255.55,339.06 255.93,341.51 256.29,343.84 256.65,346.07 256.99,348.16 257.32,350.13 257.63,351.97 257.93,353.67 258.23,355.23 258.50,356.65 258.77,357.93 259.02,359.08 259.27,360.09 259.49,360.98 259.71,361.75 259.92,362.41 260.11,362.96 260.29,363.42 260.45,363.79 260.61,364.09 260.75,364.33 260.88,364.51 261.00,364.64 261.10,364.74 261.20,364.81 261.28,364.85 261.35,364.88 261.40,364.89 261.44,364.90 261.48,364.90 261.49,364.90 261.50,364.90 261.51,364.90 261.52,364.90 261.56,364.90 261.60,364.89 261.65,364.88 261.72,364.86 261.80,364.82 261.90,364.76 262.00,364.67 262.12,364.56 262.25,364.40 262.39,364.19 262.55,363.93 262.71,363.60 262.89,363.19 263.08,362.70 263.29,362.11 263.51,361.43 263.73,360.63 263.98,359.71 264.23,358.67 264.50,357.50 264.77,356.20 265.07,354.75 265.37,353.17 265.68,351.45 266.01,349.60 266.35,347.61 266.71,345.48 267.07,343.23 267.45,340.86 267.84,338.38 268.24,335.79 268.66,333.10 269.08,330.32 269.52,327.46 269.97,324.52 270.44,321.53 270.92,318.48 271.40,315.38 271.91,312.26 272.42,309.10 272.95,305.93 273.48,302.74 274.04,299.54 274.60,296.34 275.17,293.14 275.76,289.95 276.36,286.77 276.98,283.60 277.60,280.45 278.24,277.33 278.89,274.23 279.55,271.16 280.23,268.12 280.91,265.12 281.61,262.15 282.32,259.22 283.05,256.34 283.79,253.49 284.53,250.70 285.30,247.95 286.07,245.24 286.86,242.59 287.65,239.99 288.47,237.44 289.29,234.94 290.12,232.49 290.97,230.10 291.83,227.76 292.71,225.48 293.59,223.25 294.49,221.07 295.40,218.94 296.32,216.85 297.26,214.80 298.20,212.79 299.16,210.82 300.13,208.88 301.12,206.97 302.12,205.09 303.12,203.25 304.15,201.42 305.18,199.63 306.23,197.86 307.28,196.11 308.36,194.39 309.44,192.70 310.53,191.03 311.64,189.38 312.76,187.76 313.90,186.16 315.04,184.58 316.20,183.02 317.37,181.49 318.55,179.97 319.75,178.48 320.95,177.01 322.17,175.55 323.40,174.12 324.65,172.70 325.91,171.31 327.17,169.93 328.46,168.57 329.75,167.23 331.06,165.90 332.37,164.59 333.71,163.30 335.05,162.02 336.40,160.76 337.77,159.52 339.15,158.29 340.55,157.08 341.95,155.88 343.37,154.69 344.80,153.52 346.24,152.37 347.70,151.23 349.16,150.10 350.64,148.98 352.13,147.88 353.64,146.79 355.15,145.71 356.68,144.64 358.23,143.59 359.78,142.55 361.35,141.52 362.92,140.50 364.51,139.49 366.12,138.49 367.73,137.50 369.36,136.53 371.00,135.56 372.66,134.61 374.32,133.66 376.00,132.72 377.69,131.80 379.39,130.88 381.11,129.97 382.83,129.07 384.57,128.18 386.32,127.30 388.09,126.43 389.86,125.57 391.65,124.71 393.45,123.87 395.27,123.03 397.09,122.20 398.93,121.37 400.78,120.56 402.65,119.75 404.52,118.95 406.41,118.16 408.31,117.37 410.22,116.59 412.15,115.82 414.09,115.05 416.04,114.29 418.00,113.54" stroke="#00ffff"/>
<polyline points="105.00,84.50 106.96,85.33 108.91,86.17 110.85,87.01 112.78,87.85 114.69,88.70 116.59,89.55 118.48,90.41 120.35,91.27 122.22,92.13 124.07,93.00 125.91,93.87 127.73,94.75 129.55,95.63 131.35,96.51 133.14,97.41 134.91,98.30 136.68,99.21 138.43,100.12 140.17,101.03 141.89,101.95 143.61,102.88 145.31,103.81 147.00,104.75 148.68,105.70 150.34,106.65 152.00,107.61 153.64,108.58 155.27,109.56 156.88,110.55 158.49,111.54 160.08,112.54 161.65,113.56 163.22,114.58 164.77,115.61 166.32,116.65 167.85,117.70 169.36,118.76 170.87,119.83 172.36,120.92 173.84,122.01 175.30,123.12 176.76,124.24 178.20,125.37 179.63,126.52 181.05,127.68 182.45,128.85 183.85,130.04 185.23,131.24 186.60,132.46 187.95,133.70 189.29,134.95 190.63,136.21 191.94,137.50 193.25,138.80 194.54,140.13 195.83,141.47 197.09,142.83 198.35,144.21 199.60,145.61 200.83,147.04 202.05,148.48 203.25,149.95 204.45,151.45 205.63,152.97 206.80,154.51 207.96,156.08 209.10,157.68 210.24,159.31 211.36,160.96 212.47,162.64 213.56,164.36 214.64,166.10 215.72,167.88 216.77,169.69 217.82,171.54 218.85,173.42 219.88,175.32 220.88,177.27 221.88,179.24 222.87,181.24 223.84,183.28 224.80,185.35 225.74,187.45 226.68,189.58 227.60,191.74 228.51,193.93 229.41,196.14 230.29,198.39 231.17,200.66 232.03,202.96 232.88,205.29 233.71,207.64 234.53,210.02 235.35,212.42 236.14,214.85 236.93,217.29 237.70,219.76 238.47,222.24 239.21,224.74 239.95,227.26 240.68,229.79 241.39,232.34 242.09,234.89 242.77,237.46 243.45,240.03 244.11,242.61 244.76,245.19 245.40,247.77 246.02,250.34 246.64,252.92 247.24,255.48 247.83,258.03 248.40,260.57 248.96,263.10 249.52,265.60 250.05,268.08 250.58,270.53 251.09,272.95 251.60,275.34 252.08,277.68 252.56,279.99 253.03,282.24 253.48,284.45 253.92,286.60 254.34,288.69 254.76,290.71 255.16,292.67 255.55,294.55 255.93,296.36 256.29,298.09 256.65,299.73 256.99,301.29 257.32,302.75 257.63,304.13 257.93,305.40 258.23,306.58 258.50,307.67 258.77,308.65 259.02,309.54 259.27,310.33 259.49,311.03 259.71,311.64 259.92,312.16 260.11,312.61 260.29,312.98 260.45,313.29 260.61,313.53 260.75,313.73 260.88,313.88 261.00,313.99 261.10,314.07 261.20,314.12 261.28,314.16 261.35,314.18 261.40,314.19 261.44,314.20 261.48,314.20 261.49,314.20 261.50,314.20 261.51,314.20 261.52,314.20 261.56,314.20 261.60,314.19 261.65,314.18 261.72,314.17 261.80,314.14 261.90,314.09 262.00,314.03 262.12,313.94 262.25,313.82 262.39,313.66 262.55,313.46 262.71,313.20 262.89,312.90 263.08,312.53 263.29,312.08 263.51,311.57 263.73,310.97 263.98,310.29 264.23,309.51 264.50,308.64 264.77,307.68 265.07,306.61 265.37,305.45 265.68,304.18 266.01,302.81 266.35,301.34 266.71,299.78 267.07,298.11 267.45,296.35 267.84,294.49 268.24,292.55 268.66,290.52 269.08,288.40 269.52,286.21 269.97,283.94 270.44,281.59 270.92,279.18 271.40,276.71 271.91,274.17 272.42,271.58 272.95,268.94 273.48,266.25 274.04,263.53 274.60,260.77 275.17,257.99 275.76,255.19 276.36,252.39 276.98,249.59 277.60,246.80 278.24,244.02 278.89,241.26 279.55,238.52 280.23,235.82 280.91,233.16 281.61,230.54 282.32,227.97 283.05,225.45 283.79,222.98 284.53,220.57 285.30,218.19 286.07,215.87 286.86,213.58 287.65,211.33 288.47,209.11 289.29,206.93 290.12,204.77 290.97,202.64 291.83,200.54 292.71,198.46 293.59,196.41 294.49,194.37 295.40,192.37 296.32,190.38 297.26,188.42 298.20,186.49 299.16,184.58 300.13,182.70 301.12,180.85 302.12,179.02 303.12,177.23 304.15,175.45 305.18,173.71 306.23,171.99 307.28,170.29 308.36,168.62 309.44,166.97 310.53,165.35 311.64,163.75 312.76,162.18 313.90,160.62 315.04,159.09 316.20,157.58 317.37,156.09 318.55,154.62 319.75,153.17 320.95,151.74 322.17,150.34 323.40,148.95 324.65,147.57 325.91,146.22 327.17,144.89 328.46,143.57 329.75,142.27 331.06,140.99 332.37,139.72 333.71,138.47 335.05,137.24 336.40,136.02 337.77,134.82 339.15,133.63 340.55,132.46 341.95,131.30 343.37,130.16 344.80,129.03 346.24,127.91 347.70,126.81 349.16,125.72 350.64,124.65 352.13,123.58 353.64,122.53 355.15,121.49 356.68,120.47 358.23,119.45 359.78,118.45 361.35,117.46 362.92,116.48 364.51,115.51 366.12,114.55 367.73,113.60 369.36,112.67 371.00,111.74 372.66,110.82 374.32,109.91 376.00,109.02 377.69,108.13 379.39,107.25 381.11,106.38 382.83,105.52 384.57,104.67 386.32,103.83 388.09,103.00 389.86,102.17 391.65,101.35 393.45,100.55 395.27,99.75 397.09,98.95 398.93,98.17 400.78,97.39 402.65,96.62 404.52,95.86 406.41,95.10 408.31,94.36 410.22,93.62 412.15,92.88 414.09,92.16 416.04,91.44 418.00,90.72" stroke="#ff00ff"/>
<polyline points="105.00,49.94 106.96,50.70 108.91,51.46 110.85,52.22 112.78,53.00 114.69,53.78 116.59,54.57 118.48,55.36 120.35,56.16 122.22,56.97 124.07,57.78 125.91,58.60 127.73,59.43 129.55,60.26 131.35,61.11 133.14,61.96 134.91,62.81 136.68,63.68 138.43,64.55 140.17,65.43 141.89,66.32 143.61,67.22 145.31,68.12 147.00,69.03 148.68,69.95 150.34,70.88 152.00,71.82 153.64,72.76 155.27,73.72 156.88,74.68 158.49,75.65 160.08,76.63 161.65,77.62 163.22,78.62 164.77,79.63 166.32,80.65 167.85,81.68 169.36,82.72 170.87,83.76 172.36,84.82 173.84,85.89 175.30,86.96 176.76,88.05 178.20,89.15 179.63,90.26 181.05,91.38 182.45,92.51 183.85,93.65 185.23,94.81 186.60,95.97 187.95,97.15 189.29,98.33 190.63,99.53 191.94,100.74 193.25,101.97 194.54,103.20 195.83,104.45 197.09,105.71 198.35,106.99 199.60,108.27 200.83,109.57 202.05,110.89 203.25,112.21 204.45,113.55 205.63,114.91 206.80,116.28 207.96,117.66 209.10,119.06 210.24,120.47 211.36,121.89 212.47,123.33 213.56,124.79 214.64,126.26 215.72,127.75 216.77,129.25 217.82,130.77 218.85,132.30 219.88,133.86 220.88,135.42 221.88,137.01 222.87,138.61 223.84,140.22 224.80,141.86 225.74,143.51 226.68,145.18 227.60,146.86 228.51,148.57 229.41,150.29 230.29,152.03 231.17,153.78 232.03,155.56 232.88,157.35 233.71,159.16 234.53,160.99 235.35,162.84 236.14,164.70 236.93,166.58 237.70,168.48 238.47,170.38 239.21,172.30 239.95,174.24 240.68,176.18 241.39,178.14 242.09,180.10 242.77,182.07 243.45,184.05 244.11,186.04 244.76,188.02 245.40,190.01 246.02,192.00 246.64,193.99 247.24,195.97 247.83,197.94 248.40,199.89 248.96,201.83 249.52,203.74 250.05,205.63 250.58,207.49 251.09,209.31 251.60,211.09 252.08,212.83 252.56,214.52 253.03,216.16 253.48,217.74 253.92,219.26 254.34,220.71 254.76,222.10 255.16,223.41 255.55,224.65 255.93,225.81 256.29,226.90 256.65,227.90 256.99,228.82 257.32,229.66 257.63,230.42 257.93,231.10 258.23,231.71 258.50,232.24 258.77,232.71 259.02,233.11 259.27,233.46 259.49,233.75 259.71,233.99 259.92,234.20 260.11,234.36 260.29,234.49 260.45,234.60 260.61,234.68 260.75,234.75 260.88,234.80 261.00,234.83 261.10,234.86 261.20,234.88 261.28,234.89 261.35,234.89 261.40,234.90 261.44,234.90 261.48,234.90 261.49,234.90 261.50,234.90 261.51,234.90 261.52,234.90 261.56,234.90 261.60,234.90 261.65,234.89 261.72,234.88 261.80,234.86 261.90,234.84 262.00,234.80 262.12,234.75 262.25,234.68 262.39,234.59 262.55,234.47 262.71,234.32 262.89,234.14 263.08,233.92 263.29,233.65 263.51,233.34 263.73,232.98 263.98,232.56 264.23,232.09 264.50,231.55 264.77,230.94 265.07,230.27 265.37,229.53 265.68,228.72 266.01,227.84 266.35,226.89 266.71,225.87 267.07,224.78 267.45,223.63 267.84,222.41 268.24,221.12 268.66,219.78 269.08,218.37 269.52,216.91 269.97,215.40 270.44,213.83 270.92,212.22 271.40,210.57 271.91,208.88 272.42,207.15 272.95,205.38 273.48,203.58 274.04,201.76 274.60,199.91 275.17,198.04 275.76,196.15 276.36,194.25 276.98,192.33 277.60,190.40 278.24,188.47 278.89,186.52 279.55,184.58 280.23,182.63 280.91,180.68 281.61,178.74 282.32,176.80 283.05,174.87 283.79,172.94 284.53,171.03 285.30,169.13 286.07,167.23 286.86,165.36 287.65,163.50 288.47,161.65 289.29,159.83 290.12,158.02 290.97,156.23 291.83,154.46 292.71,152.71 293.59,150.97 294.49,149.26 295.40,147.56 296.32,145.89 297.26,144.23 298.20,142.58 299.16,140.96 300.13,139.35 301.12,137.77 302.12,136.19 303.12,134.64 304.15,133.10 305.18,131.58 306.23,130.08 307.28,128.59 308.36,127.12 309.44,125.66 310.53,124.22 311.64,122.79 312.76,121.38 313.90,119.99 315.04,118.61 316.20,117.25 317.37,115.89 318.55,114.56 319.75,113.24 320.95,111.93 322.17,110.63 323.40,109.35 324.65,108.09 325.91,106.83 327.17,105.59 328.46,104.36 329.75,103.15 331.06,101.94 332.37,100.75 333.71,99.58 335.05,98.41 336.40,97.25 337.77,96.11 339.15,94.98 340.55,93.86 341.95,92.75 343.37,91.65 344.80,90.57 346.24,89.49 347.70,88.43 349.16,87.37 350.64,86.33 352.13,85.29 353.64,84.27 355.15,83.25 356.68,82.25 358.23,81.26 359.78,80.27 361.35,79.29 362.92,78.33 364.51,77.37 366.12,76.42 367.73,75.48 369.36,74.55 371.00,73.63 372.66,72.72 374.32,71.81 376.00,70.92 377.69,70.03 379.39,69.15 381.11,68.27 382.83,67.41 384.57,66.55 386.32,65.71 388.09,64.87 389.86,64.03 391.65,63.21 393.45,62.39 395.27,61.58 397.09,60.77 398.93,59.98 400.78,59.19 402.65,58.40 404.52,57.63 406.41,56.86 408.31,56.10 410.22,55.34 412.15,54.59 414.09,53.85 416.04,53.11 418.00,52.38" stroke="#ffff00"/>
</g>
<clipPath id="cr"><rect x="482" y="0" width="347" height="520"/></clipPath>
<g fill="none" stroke-width="3.0" stroke-linejoin="round" stroke-linecap="round" clip-path="url(#cr)">
<polyline points="481.20,92.46 483.38,93.46 485.54,94.46 487.69,95.46 489.82,96.46 491.94,97.46 494.05,98.46 496.14,99.46 498.22,100.46 500.29,101.46 502.34,102.47 504.38,103.48 506.40,104.49 508.41,105.51 510.41,106.53 512.39,107.55 514.36,108.58 516.32,109.61 518.26,110.65 520.19,111.69 522.10,112.74 524.00,113.80 525.89,114.87 527.76,115.94 529.62,117.03 531.47,118.12 533.30,119.23 535.12,120.34 536.93,121.47 538.72,122.61 540.50,123.76 542.26,124.93 544.01,126.11 545.75,127.31 547.47,128.52 549.18,129.76 550.87,131.01 552.55,132.28 554.22,133.57 555.87,134.88 557.52,136.22 559.14,137.58 560.75,138.96 562.35,140.37 563.94,141.81 565.51,143.27 567.07,144.75 568.61,146.27 570.14,147.80 571.66,149.37 573.16,150.95 574.65,152.57 576.13,154.20 577.59,155.86 579.04,157.55 580.47,159.26 581.89,160.99 583.30,162.75 584.69,164.53 586.07,166.34 587.44,168.16 588.79,170.01 590.13,171.89 591.45,173.78 592.76,175.69 594.06,177.63 595.34,179.58 596.61,181.56 597.87,183.55 599.11,185.56 600.34,187.59 601.55,189.63 602.76,191.70 603.94,193.77 605.12,195.86 606.28,197.97 607.42,200.09 608.55,202.21 609.67,204.35 610.78,206.50 611.87,208.66 612.95,210.82 614.01,212.99 615.06,215.18 616.10,217.38 617.12,219.60 618.13,221.85 619.12,224.12 620.10,226.42 621.07,228.76 622.03,231.14 622.97,233.57 623.89,236.04 624.81,238.58 625.70,241.17 626.59,243.83 627.46,246.56 628.32,249.37 629.16,252.26 629.99,255.25 630.81,258.33 631.61,261.52 632.40,264.82 633.18,268.25 633.94,271.80 634.69,275.49 635.42,279.32 636.14,283.30 636.85,287.45 637.54,291.77 638.22,296.27 638.89,300.96 639.54,305.86 640.18,310.98 640.80,316.36 641.41,322.00 642.01,327.92 642.59,334.15 643.16,340.66 643.72,347.37 644.26,354.17 644.79,360.97 645.30,367.67 645.81,374.18 646.29,380.49 646.77,386.62 647.23,392.57 647.67,398.36 648.10,404.01 648.52,409.51 648.93,414.88 649.32,420.08 649.70,425.03 650.06,429.64 650.41,433.87 650.75,437.77 651.07,441.39 651.38,444.81 651.67,448.09 651.95,451.25 652.22,454.30 652.48,457.24 652.72,460.06 652.94,462.77 653.16,465.35 653.35,467.80 653.54,470.13 653.71,472.31 653.87,474.35 654.01,476.25 654.14,477.99 654.26,479.56 654.36,480.97 654.45,482.21 654.53,483.26 654.59,484.13 654.64,484.82 654.67,485.31 654.69,485.60 654.70,485.70 654.71,485.62 654.73,485.38 654.76,484.99 654.81,484.45 654.87,483.75 654.95,482.92 655.03,481.95 655.14,480.85 655.25,479.62 655.38,478.27 655.53,476.80 655.68,475.21 655.85,473.48 656.04,471.63 656.23,469.64 656.45,467.49 656.67,465.18 656.91,462.68 657.16,459.98 657.43,457.04 657.71,453.86 658.00,450.39 658.31,446.62 658.63,442.51 658.96,438.08 659.31,433.39 659.67,428.54 660.05,423.59 660.44,418.66 660.84,413.82 661.25,409.18 661.68,404.82 662.13,400.65 662.58,396.46 663.05,392.05 663.54,387.21 664.04,381.73 664.55,375.41 665.07,368.05 665.61,359.72 666.16,351.16 666.73,343.20 667.31,336.25 667.90,329.82 668.51,323.47 669.13,317.32 669.76,311.59 670.41,306.48 671.07,302.20 671.75,298.87 672.44,296.06 673.14,293.13 673.86,289.73 674.59,285.94 675.33,281.88 676.09,277.65 676.86,273.36 677.64,269.11 678.44,264.99 679.25,261.09 680.07,257.49 680.91,254.24 681.77,251.28 682.63,248.58 683.51,246.08 684.41,243.74 685.31,241.51 686.23,239.35 687.17,237.22 688.11,235.08 689.08,232.89 690.05,230.63 691.04,228.27 692.04,225.85 693.06,223.39 694.09,220.94 695.13,218.51 696.19,216.14 697.26,213.86 698.34,211.66 699.44,209.53 700.55,207.46 701.68,205.45 702.82,203.47 703.97,201.52 705.14,199.60 706.32,197.70 707.51,195.82 708.72,193.97 709.94,192.14 711.17,190.34 712.42,188.55 713.68,186.80 714.96,185.07 716.24,183.36 717.55,181.68 718.86,180.02 720.19,178.38 721.54,176.77 722.89,175.19 724.26,173.62 725.65,172.09 727.05,170.57 728.46,169.08 729.88,167.61 731.32,166.17 732.77,164.75 734.24,163.36 735.72,161.99 737.21,160.64 738.72,159.31 740.24,158.01 741.78,156.73 743.32,155.47 744.89,154.23 746.46,153.01 748.05,151.81 749.65,150.63 751.27,149.47 752.90,148.33 754.54,147.20 756.20,146.09 757.87,145.00 759.55,143.92 761.25,142.86 762.96,141.81 764.69,140.78 766.43,139.77 768.18,138.76 769.95,137.77 771.73,136.80 773.52,135.84 775.33,134.89 777.15,133.95 778.98,133.02 780.83,132.11 782.69,131.21 784.57,130.31 786.46,129.43 788.36,128.56 790.28,127.70 792.21,126.85 794.15,126.01 796.11,125.18 798.08,124.36 800.06,123.54 802.06,122.74 804.07,121.94 806.10,121.15 808.14,120.37 810.19,119.60 812.25,118.83 814.33,118.07 816.43,117.32 818.53,116.58 820.66,115.84 822.79,115.11 824.94,114.38 827.10,113.66" stroke="#000000" stroke-width="2.0"/>
<polygon points="654.17,465.26 653.96,462.68 653.74,459.97 653.50,457.15 653.25,454.21 652.99,451.16 652.71,447.99 652.42,444.72 652.12,441.30 651.80,437.67 651.47,433.78 651.12,429.56 650.77,424.95 650.39,420.00 650.01,414.80 649.61,409.43 649.20,403.92 648.77,398.28 648.33,392.49 647.88,386.53 647.41,380.40 646.93,374.09 646.44,367.58 645.93,360.89 645.41,354.08 644.87,347.28 644.32,340.56 643.76,334.05 643.19,327.81 642.60,321.87 641.99,316.22 641.38,310.84 640.75,305.70 640.10,300.79 639.44,296.09 638.77,291.58 638.09,287.25 637.39,283.09 636.68,279.09 635.95,275.24 635.21,271.53 634.45,267.97 633.69,264.53 632.90,261.21 632.11,258.00 631.30,254.89 630.48,251.89 629.64,248.97 628.79,246.14 627.92,243.39 627.03,240.72 626.13,238.11 625.21,235.56 624.27,233.07 623.33,230.63 622.37,228.23 621.40,225.88 620.41,223.56 619.41,221.28 618.39,219.02 617.37,216.79 616.32,214.58 615.27,212.38 614.20,210.20 613.12,208.03 612.02,205.86 610.92,203.71 609.79,201.56 608.66,199.42 607.50,197.30 606.34,195.18 605.16,193.08 603.97,191.00 602.76,188.92 601.54,186.87 600.31,184.83 599.06,182.81 597.79,180.80 596.52,178.82 595.23,176.85 593.92,174.91 592.60,172.98 591.27,171.08 589.92,169.19 588.56,167.33 587.19,165.49 585.80,163.68 584.40,161.88 582.98,160.11 581.55,158.37 580.10,156.64 578.65,154.95 577.17,153.27 575.69,151.62 574.18,150.00 572.67,148.40 571.14,146.82 569.60,145.27 568.04,143.75 566.47,142.25 564.89,140.78 563.29,139.33 561.67,137.91 560.05,136.51 558.41,135.14 556.75,133.79 555.08,132.47 553.40,131.17 551.71,129.89 550.00,128.63 548.28,127.39 546.55,126.16 544.80,124.96 543.04,123.77 541.26,122.59 539.47,121.43 537.67,120.29 535.86,119.15 534.03,118.03 532.19,116.92 530.33,115.82 528.47,114.73 526.58,113.65 524.69,112.58 522.78,111.52 520.86,110.46 518.92,109.42 516.97,108.37 515.01,107.34 513.04,106.31 511.05,105.28 509.04,104.26 507.03,103.24 505.00,102.23 502.96,101.22 500.90,100.21 498.83,99.20 496.75,98.20 494.65,97.19 492.54,96.19 490.42,95.19 488.28,94.19 486.13,93.19 483.96,92.19 481.79,91.18 480.61,93.73 482.79,94.73 484.95,95.73 487.09,96.72 489.22,97.72 491.34,98.72 493.44,99.72 495.53,100.72 497.61,101.72 499.67,102.72 501.72,103.73 503.75,104.73 505.77,105.74 507.78,106.76 509.77,107.77 511.75,108.79 513.71,109.82 515.66,110.85 517.60,111.88 519.52,112.92 521.43,113.97 523.32,115.02 525.20,116.09 527.06,117.16 528.91,118.24 530.75,119.32 532.58,120.42 534.38,121.53 536.18,122.65 537.96,123.79 539.73,124.93 541.48,126.09 543.22,127.27 544.94,128.46 546.65,129.66 548.35,130.89 550.03,132.13 551.70,133.39 553.36,134.67 555.00,135.97 556.62,137.30 558.24,138.65 559.84,140.02 561.42,141.42 562.99,142.84 564.55,144.29 566.10,145.76 567.63,147.26 569.14,148.79 570.65,150.33 572.14,151.91 573.62,153.51 575.08,155.13 576.53,156.78 577.97,158.46 579.39,160.15 580.80,161.88 582.20,163.62 583.58,165.39 584.95,167.18 586.31,169.00 587.65,170.83 588.98,172.69 590.30,174.58 591.60,176.48 592.89,178.40 594.17,180.34 595.43,182.31 596.68,184.29 597.92,186.29 599.14,188.31 600.35,190.34 601.54,192.39 602.72,194.46 603.89,196.54 605.05,198.64 606.19,200.75 607.32,202.87 608.43,205.00 609.53,207.14 610.62,209.28 611.69,211.44 612.75,213.60 613.80,215.78 614.83,217.97 615.84,220.18 616.85,222.41 617.84,224.67 618.81,226.96 619.78,229.29 620.72,231.66 621.66,234.07 622.58,236.53 623.49,239.04 624.38,241.62 625.26,244.26 626.14,246.97 627.00,249.76 627.85,252.64 628.69,255.60 629.51,258.67 630.32,261.84 631.12,265.12 631.90,268.53 632.67,272.06 633.43,275.74 634.17,279.55 634.90,283.52 635.61,287.66 636.31,291.96 637.00,296.45 637.67,301.12 638.33,306.01 638.98,311.13 639.61,316.49 640.23,322.12 640.83,328.04 641.43,334.26 642.00,340.76 642.57,347.46 643.12,354.26 643.65,361.06 644.17,367.76 644.68,374.26 645.18,380.58 645.66,386.70 646.12,392.66 646.58,398.45 647.01,404.09 647.44,409.59 647.85,414.96 648.25,420.17 648.63,425.11 649.00,429.73 649.35,433.96 649.69,437.86 650.02,441.49 650.34,444.91 650.63,448.18 650.92,451.34 651.19,454.39 651.45,457.33 651.69,460.15 651.92,462.85 652.14,465.43" fill="#000000" stroke="none"/>
<polygon points="657.25,469.74 657.47,467.59 657.69,465.28 657.94,462.78 658.19,460.07 658.46,457.14 658.75,453.95 659.04,450.48 659.36,446.71 659.68,442.59 660.02,438.16 660.37,433.47 660.74,428.62 661.12,423.68 661.51,418.75 661.92,413.92 662.34,409.29 662.78,404.93 663.23,400.77 663.69,396.58 664.17,392.16 664.66,387.31 665.16,381.82 665.68,375.50 666.22,368.13 666.76,359.80 667.32,351.24 667.90,343.29 668.48,336.35 669.09,329.93 669.70,323.59 670.33,317.45 670.97,311.73 671.62,306.65 672.29,302.41 672.96,299.14 673.66,296.36 674.37,293.40 675.10,289.98 675.85,286.18 676.60,282.11 677.37,277.88 678.15,273.60 678.94,269.36 679.75,265.26 680.57,261.38 681.40,257.81 682.24,254.60 683.09,251.69 683.96,249.03 684.83,246.57 685.71,244.25 686.60,242.05 687.52,239.90 688.45,237.78 689.40,235.64 690.36,233.45 691.34,231.18 692.33,228.81 693.34,226.38 694.35,223.93 695.38,221.49 696.41,219.07 697.46,216.72 698.52,214.46 699.59,212.29 700.68,210.18 701.78,208.14 702.90,206.14 704.03,204.18 705.17,202.24 706.33,200.33 707.50,198.44 708.69,196.58 709.88,194.74 711.10,192.92 712.32,191.13 713.56,189.36 714.81,187.62 716.08,185.90 717.36,184.21 718.65,182.54 719.95,180.89 721.27,179.27 722.61,177.68 723.95,176.10 725.31,174.55 726.68,173.03 728.07,171.53 729.47,170.05 730.88,168.60 732.31,167.17 733.75,165.76 735.20,164.38 736.67,163.02 738.15,161.68 739.64,160.37 741.15,159.08 742.67,157.81 744.20,156.56 745.75,155.33 747.31,154.12 748.89,152.93 750.48,151.76 752.08,150.61 753.70,149.48 755.33,148.36 756.97,147.26 758.63,146.17 760.30,145.10 761.99,144.05 763.69,143.01 765.40,141.99 767.13,140.98 768.87,139.98 770.63,139.00 772.39,138.03 774.18,137.07 775.97,136.13 777.78,135.20 779.61,134.28 781.45,133.37 783.30,132.47 785.16,131.58 787.04,130.70 788.94,129.84 790.84,128.98 792.77,128.13 794.70,127.30 796.65,126.47 798.61,125.65 800.59,124.84 802.58,124.04 804.58,123.24 806.60,122.46 808.63,121.68 810.68,120.91 812.74,120.14 814.81,119.39 816.90,118.64 819.00,117.90 821.11,117.16 823.24,116.43 825.38,115.71 827.54,114.99 826.66,112.34 824.49,113.06 822.34,113.78 820.20,114.51 818.07,115.25 815.96,116.00 813.86,116.75 811.77,117.52 809.70,118.28 807.64,119.06 805.59,119.84 803.56,120.64 801.54,121.44 799.53,122.24 797.54,123.06 795.56,123.89 793.60,124.72 791.64,125.57 789.71,126.42 787.78,127.29 785.87,128.16 783.97,129.05 782.09,129.94 780.21,130.85 778.36,131.77 776.51,132.70 774.68,133.65 772.86,134.60 771.06,135.57 769.27,136.55 767.49,137.55 765.73,138.55 763.98,139.58 762.24,140.62 760.52,141.67 758.81,142.74 757.11,143.82 755.43,144.92 753.76,146.04 752.10,147.17 750.46,148.33 748.83,149.50 747.21,150.69 745.61,151.90 744.02,153.13 742.45,154.38 740.89,155.65 739.34,156.94 737.80,158.25 736.28,159.59 734.78,160.95 733.28,162.34 731.80,163.75 730.34,165.18 728.89,166.63 727.45,168.11 726.02,169.61 724.61,171.14 723.22,172.69 721.84,174.27 720.47,175.87 719.11,177.49 717.77,179.14 716.45,180.81 715.13,182.51 713.83,184.23 712.55,185.98 711.28,187.74 710.02,189.54 708.78,191.36 707.55,193.20 706.33,195.06 705.13,196.95 703.94,198.87 702.77,200.80 701.61,202.76 700.46,204.76 699.33,206.79 698.20,208.88 697.09,211.03 696.00,213.25 694.92,215.56 693.85,217.95 692.80,220.39 691.77,222.86 690.75,225.31 689.75,227.73 688.76,230.08 687.79,232.33 686.83,234.51 685.89,236.65 684.95,238.79 684.02,240.97 683.10,243.23 682.20,245.60 681.31,248.14 680.44,250.88 679.59,253.88 678.75,257.17 677.93,260.80 677.13,264.73 676.34,268.87 675.56,273.13 674.80,277.42 674.05,281.65 673.32,285.70 672.61,289.47 671.91,292.85 671.22,295.77 670.53,298.60 669.86,301.99 669.20,306.31 668.56,311.44 667.93,317.20 667.32,323.36 666.72,329.70 666.13,336.14 665.56,343.11 665.00,351.08 664.46,359.65 663.93,367.98 663.41,375.32 662.91,381.63 662.42,387.10 661.94,391.93 661.48,396.34 661.03,400.53 660.59,404.71 660.16,409.08 659.75,413.73 659.36,418.57 658.97,423.51 658.60,428.46 658.25,433.31 657.90,438.00 657.57,442.43 657.26,446.54 656.96,450.31 656.67,453.77 656.39,456.95 656.13,459.88 655.88,462.58 655.65,465.08 655.43,467.39 655.22,469.54" fill="#000000" stroke="none"/>
<polyline points="481.35,99.41 483.53,100.42 485.69,101.43 487.84,102.45 489.97,103.47 492.09,104.50 494.20,105.53 496.29,106.56 498.37,107.59 500.44,108.63 502.49,109.68 504.53,110.72 506.55,111.78 508.56,112.84 510.56,113.90 512.54,114.97 514.51,116.04 516.47,117.12 518.41,118.20 520.34,119.30 522.25,120.39 524.15,121.50 526.04,122.61 527.91,123.73 529.77,124.85 531.62,125.99 533.45,127.13 535.27,128.28 537.08,129.44 538.87,130.61 540.65,131.78 542.41,132.97 544.16,134.17 545.90,135.38 547.62,136.60 549.33,137.82 551.02,139.07 552.70,140.32 554.37,141.59 556.02,142.86 557.67,144.16 559.29,145.46 560.90,146.78 562.50,148.12 564.09,149.47 565.66,150.84 567.22,152.22 568.76,153.62 570.29,155.04 571.81,156.48 573.31,157.93 574.80,159.41 576.28,160.90 577.74,162.42 579.19,163.96 580.62,165.52 582.04,167.11 583.45,168.72 584.84,170.35 586.22,172.01 587.59,173.70 588.94,175.41 590.28,177.15 591.60,178.92 592.91,180.72 594.21,182.55 595.49,184.40 596.76,186.29 598.02,188.21 599.26,190.16 600.49,192.14 601.70,194.15 602.91,196.20 604.09,198.28 605.27,200.39 606.43,202.54 607.57,204.73 608.70,206.95 609.82,209.21 610.93,211.50 612.02,213.84 613.10,216.21 614.16,218.62 615.21,221.08 616.25,223.57 617.27,226.11 618.28,228.69 619.27,231.32 620.25,233.98 621.22,236.70 622.18,239.45 623.12,242.26 624.04,245.11 624.96,248.01 625.85,250.96 626.74,253.96 627.61,257.01 628.47,260.11 629.31,263.26 630.14,266.46 630.96,269.72 631.76,273.03 632.55,276.39 633.33,279.80 634.09,283.26 634.84,286.78 635.57,290.36 636.29,293.98 637.00,297.66 637.69,301.39 638.37,305.17 639.04,309.00 639.69,312.88 640.33,316.81 640.95,320.79 641.56,324.81 642.16,328.88 642.74,332.99 643.31,337.14 643.87,341.33 644.41,345.56 644.94,349.81 645.45,354.09 645.96,358.39 646.44,362.70 646.92,367.02 647.38,371.33 647.82,375.63 648.25,379.91 648.67,384.16 649.08,388.37 649.47,392.53 649.85,396.62 650.21,400.63 650.56,404.56 650.90,408.37 651.22,412.06 651.53,415.62 651.82,419.01 652.10,422.23 652.37,425.26 652.63,428.08 652.87,430.67 653.09,433.02 653.31,435.11 653.50,436.95 653.69,438.52 653.86,439.84 654.02,440.92 654.16,441.77 654.29,442.41 654.41,442.89 654.51,443.22 654.60,443.44 654.68,443.57 654.74,443.65 654.79,443.68 654.82,443.70 654.84,443.70 654.85,443.70 654.86,443.70 654.88,443.70 654.91,443.69 654.96,443.67 655.02,443.62 655.10,443.54 655.18,443.41 655.29,443.21 655.40,442.92 655.53,442.52 655.68,441.99 655.83,441.32 656.00,440.48 656.19,439.46 656.38,438.25 656.60,436.85 656.82,435.23 657.06,433.41 657.31,431.37 657.58,429.12 657.86,426.65 658.15,423.97 658.46,421.07 658.78,417.96 659.11,414.64 659.46,411.11 659.82,407.38 660.20,403.44 660.59,399.30 660.99,394.96 661.40,390.43 661.83,385.71 662.28,380.81 662.73,375.78 663.20,370.65 663.69,365.48 664.19,360.30 664.70,355.17 665.22,350.14 665.76,345.23 666.31,340.50 666.88,335.94 667.46,331.54 668.05,327.29 668.66,323.17 669.28,319.16 669.91,315.26 670.56,311.45 671.22,307.71 671.90,304.03 672.59,300.41 673.29,296.82 674.01,293.27 674.74,289.77 675.48,286.30 676.24,282.89 677.01,279.53 677.79,276.22 678.59,272.96 679.40,269.76 680.22,266.62 681.06,263.53 681.92,260.51 682.78,257.55 683.66,254.64 684.56,251.80 685.46,249.02 686.38,246.29 687.32,243.62 688.26,240.99 689.23,238.42 690.20,235.90 691.19,233.43 692.19,231.00 693.21,228.62 694.24,226.27 695.28,223.98 696.34,221.72 697.41,219.49 698.49,217.31 699.59,215.16 700.70,213.05 701.83,210.97 702.97,208.93 704.12,206.91 705.29,204.93 706.47,202.97 707.66,201.04 708.87,199.14 710.09,197.27 711.32,195.42 712.57,193.60 713.83,191.81 715.11,190.04 716.39,188.30 717.70,186.58 719.01,184.88 720.34,183.22 721.69,181.57 723.04,179.95 724.41,178.35 725.80,176.77 727.20,175.22 728.61,173.69 730.03,172.18 731.47,170.70 732.92,169.23 734.39,167.79 735.87,166.37 737.36,164.96 738.87,163.58 740.39,162.22 741.93,160.88 743.47,159.56 745.04,158.26 746.61,156.97 748.20,155.71 749.80,154.46 751.42,153.24 753.05,152.03 754.69,150.84 756.35,149.66 758.02,148.51 759.70,147.37 761.40,146.25 763.11,145.14 764.84,144.05 766.58,142.98 768.33,141.92 770.10,140.88 771.88,139.86 773.67,138.85 775.48,137.86 777.30,136.88 779.13,135.91 780.98,134.96 782.84,134.03 784.72,133.11 786.61,132.20 788.51,131.31 790.43,130.43 792.36,129.57 794.30,128.71 796.26,127.88 798.23,127.05 800.21,126.24 802.21,125.44 804.22,124.65 806.25,123.88 808.29,123.12 810.34,122.37 812.40,121.63 814.48,120.90 816.58,120.19 818.68,119.49 820.81,118.79 822.94,118.11 825.09,117.44 827.25,116.79" stroke="#ff0000"/>
<polyline points="481.20,81.80 483.38,82.85 485.54,83.89 487.69,84.95 489.82,86.00 491.94,87.05 494.05,88.11 496.14,89.18 498.22,90.24 500.29,91.31 502.34,92.38 504.38,93.46 506.40,94.54 508.41,95.62 510.41,96.71 512.39,97.81 514.36,98.90 516.32,100.01 518.26,101.11 520.19,102.23 522.10,103.35 524.00,104.47 525.89,105.61 527.76,106.74 529.62,107.89 531.47,109.04 533.30,110.20 535.12,111.37 536.93,112.54 538.72,113.73 540.50,114.92 542.26,116.12 544.01,117.33 545.75,118.55 547.47,119.78 549.18,121.02 550.87,122.28 552.55,123.54 554.22,124.82 555.87,126.10 557.52,127.40 559.14,128.72 560.75,130.04 562.35,131.39 563.94,132.74 565.51,134.11 567.07,135.50 568.61,136.91 570.14,138.33 571.66,139.77 573.16,141.22 574.65,142.70 576.13,144.20 577.59,145.71 579.04,147.25 580.47,148.81 581.89,150.40 583.30,152.00 584.69,153.63 586.07,155.29 587.44,156.97 588.79,158.68 590.13,160.42 591.45,162.19 592.76,163.99 594.06,165.82 595.34,167.67 596.61,169.56 597.87,171.48 599.11,173.44 600.34,175.42 601.55,177.44 602.76,179.49 603.94,181.57 605.12,183.69 606.28,185.84 607.42,188.03 608.55,190.25 609.67,192.50 610.78,194.80 611.87,197.13 612.95,199.49 614.01,201.90 615.06,204.34 616.10,206.81 617.12,209.33 618.13,211.89 619.12,214.48 620.10,217.12 621.07,219.79 622.03,222.51 622.97,225.26 623.89,228.06 624.81,230.89 625.70,233.77 626.59,236.69 627.46,239.65 628.32,242.65 629.16,245.69 629.99,248.76 630.81,251.88 631.61,255.04 632.40,258.23 633.18,261.47 633.94,264.73 634.69,268.04 635.42,271.37 636.14,274.74 636.85,278.14 637.54,281.57 638.22,285.03 638.89,288.52 639.54,292.03 640.18,295.56 640.80,299.11 641.41,302.68 642.01,306.26 642.59,309.86 643.16,313.47 643.72,317.09 644.26,320.72 644.79,324.36 645.30,327.99 645.81,331.63 646.29,335.27 646.77,338.89 647.23,342.51 647.67,346.10 648.10,349.67 648.52,353.20 648.93,356.68 649.32,360.09 649.70,363.42 650.06,366.65 650.41,369.77 650.75,372.77 651.07,375.63 651.38,378.34 651.67,380.89 651.95,383.26 652.22,385.45 652.48,387.45 652.72,389.26 652.94,390.86 653.16,392.26 653.35,393.47 653.54,394.49 653.71,395.32 653.87,396.00 654.01,396.52 654.14,396.92 654.26,397.21 654.36,397.41 654.45,397.55 654.53,397.63 654.59,397.67 654.64,397.69 654.67,397.70 654.69,397.70 654.70,397.70 654.71,397.70 654.73,397.70 654.76,397.69 654.81,397.68 654.87,397.65 654.95,397.59 655.03,397.49 655.14,397.35 655.25,397.14 655.38,396.85 655.53,396.47 655.68,395.98 655.85,395.35 656.04,394.58 656.23,393.66 656.45,392.56 656.67,391.29 656.91,389.83 657.16,388.18 657.43,386.34 657.71,384.31 658.00,382.09 658.31,379.68 658.63,377.11 658.96,374.36 659.31,371.46 659.67,368.42 660.05,365.25 660.44,361.96 660.84,358.58 661.25,355.11 661.68,351.57 662.13,347.98 662.58,344.35 663.05,340.70 663.54,337.03 664.04,333.35 664.55,329.65 665.07,325.95 665.61,322.23 666.16,318.51 666.73,314.77 667.31,311.03 667.90,307.29 668.51,303.53 669.13,299.77 669.76,296.00 670.41,292.23 671.07,288.48 671.75,284.74 672.44,281.03 673.14,277.35 673.86,273.71 674.59,270.12 675.33,266.57 676.09,263.08 676.86,259.66 677.64,256.30 678.44,253.01 679.25,249.80 680.07,246.66 680.91,243.61 681.77,240.64 682.63,237.76 683.51,234.98 684.41,232.29 685.31,229.69 686.23,227.19 687.17,224.77 688.11,222.42 689.08,220.12 690.05,217.87 691.04,215.66 692.04,213.48 693.06,211.31 694.09,209.16 695.13,207.03 696.19,204.92 697.26,202.83 698.34,200.75 699.44,198.69 700.55,196.64 701.68,194.61 702.82,192.60 703.97,190.61 705.14,188.64 706.32,186.68 707.51,184.75 708.72,182.84 709.94,180.94 711.17,179.07 712.42,177.22 713.68,175.40 714.96,173.59 716.24,171.81 717.55,170.05 718.86,168.31 720.19,166.60 721.54,164.91 722.89,163.24 724.26,161.60 725.65,159.98 727.05,158.38 728.46,156.81 729.88,155.26 731.32,153.73 732.77,152.23 734.24,150.75 735.72,149.30 737.21,147.87 738.72,146.46 740.24,145.08 741.78,143.72 743.32,142.39 744.89,141.08 746.46,139.79 748.05,138.53 749.65,137.29 751.27,136.08 752.90,134.88 754.54,133.71 756.20,132.57 757.87,131.44 759.55,130.34 761.25,129.26 762.96,128.19 764.69,127.15 766.43,126.12 768.18,125.11 769.95,124.11 771.73,123.13 773.52,122.17 775.33,121.21 777.15,120.28 778.98,119.35 780.83,118.44 782.69,117.54 784.57,116.65 786.46,115.77 788.36,114.90 790.28,114.04 792.21,113.19 794.15,112.35 796.11,111.52 798.08,110.69 800.06,109.88 802.06,109.06 804.07,108.26 806.10,107.46 808.14,106.67 810.19,105.88 812.25,105.10 814.33,104.32 816.43,103.55 818.53,102.78 820.66,102.02 822.79,101.26 824.94,100.50 827.10,99.75" stroke="#00ff00"/>
<polyline points="481.20,68.13 483.38,69.03 485.54,69.94 487.69,70.85 489.82,71.77 491.94,72.69 494.05,73.62 496.14,74.56 498.22,75.51 500.29,76.47 502.34,77.43 504.38,78.40 506.40,79.38 508.41,80.36 510.41,81.36 512.39,82.36 514.36,83.37 516.32,84.39 518.26,85.42 520.19,86.46 522.10,87.51 524.00,88.57 525.89,89.64 527.76,90.72 529.62,91.81 531.47,92.91 533.30,94.02 535.12,95.14 536.93,96.27 538.72,97.41 540.50,98.57 542.26,99.74 544.01,100.92 545.75,102.11 547.47,103.31 549.18,104.53 550.87,105.76 552.55,107.01 554.22,108.26 555.87,109.54 557.52,110.82 559.14,112.13 560.75,113.44 562.35,114.78 563.94,116.13 565.51,117.49 567.07,118.87 568.61,120.27 570.14,121.69 571.66,123.12 573.16,124.58 574.65,126.05 576.13,127.54 577.59,129.05 579.04,130.58 580.47,132.13 581.89,133.70 583.30,135.30 584.69,136.91 586.07,138.55 587.44,140.21 588.79,141.90 590.13,143.61 591.45,145.34 592.76,147.10 594.06,148.89 595.34,150.70 596.61,152.54 597.87,154.41 599.11,156.31 600.34,158.23 601.55,160.19 602.76,162.18 603.94,164.20 605.12,166.25 606.28,168.33 607.42,170.45 608.55,172.59 609.67,174.77 610.78,176.99 611.87,179.23 612.95,181.51 614.01,183.83 615.06,186.17 616.10,188.56 617.12,190.97 618.13,193.42 619.12,195.91 620.10,198.43 621.07,200.99 622.03,203.58 622.97,206.20 623.89,208.87 624.81,211.56 625.70,214.30 626.59,217.07 627.46,219.87 628.32,222.71 629.16,225.58 629.99,228.49 630.81,231.43 631.61,234.41 632.40,237.42 633.18,240.46 633.94,243.53 634.69,246.64 635.42,249.77 636.14,252.94 636.85,256.14 637.54,259.36 638.22,262.61 638.89,265.88 639.54,269.17 640.18,272.48 640.80,275.80 641.41,279.13 642.01,282.46 642.59,285.80 643.16,289.13 643.72,292.45 644.26,295.76 644.79,299.06 645.30,302.32 645.81,305.56 646.29,308.76 646.77,311.92 647.23,315.03 647.67,318.08 648.10,321.07 648.52,323.99 648.93,326.82 649.32,329.57 649.70,332.23 650.06,334.78 650.41,337.21 650.75,339.53 651.07,341.73 651.38,343.78 651.67,345.70 651.95,347.46 652.22,349.08 652.48,350.54 652.72,351.84 652.94,352.98 653.16,353.98 653.35,354.82 653.54,355.52 653.71,356.10 653.87,356.56 654.01,356.91 654.14,357.18 654.26,357.38 654.36,357.51 654.45,357.60 654.53,357.65 654.59,357.68 654.64,357.70 654.67,357.70 654.69,357.70 654.70,357.70 654.71,357.70 654.73,357.70 654.76,357.70 654.81,357.68 654.87,357.66 654.95,357.62 655.03,357.55 655.14,357.45 655.25,357.29 655.38,357.08 655.53,356.80 655.68,356.44 655.85,355.98 656.04,355.41 656.23,354.73 656.45,353.91 656.67,352.96 656.91,351.87 657.16,350.62 657.43,349.23 657.71,347.68 658.00,345.98 658.31,344.13 658.63,342.13 658.96,339.99 659.31,337.71 659.67,335.29 660.05,332.76 660.44,330.10 660.84,327.33 661.25,324.47 661.68,321.51 662.13,318.46 662.58,315.34 663.05,312.15 663.54,308.91 664.04,305.61 664.55,302.27 665.07,298.90 665.61,295.51 666.16,292.10 666.73,288.67 667.31,285.25 667.90,281.83 668.51,278.42 669.13,275.03 669.76,271.66 670.41,268.31 671.07,265.01 671.75,261.74 672.44,258.51 673.14,255.33 673.86,252.20 674.59,249.12 675.33,246.08 676.09,243.09 676.86,240.14 677.64,237.24 678.44,234.38 679.25,231.56 680.07,228.78 680.91,226.04 681.77,223.35 682.63,220.69 683.51,218.06 684.41,215.47 685.31,212.92 686.23,210.40 687.17,207.92 688.11,205.46 689.08,203.04 690.05,200.65 691.04,198.29 692.04,195.96 693.06,193.65 694.09,191.37 695.13,189.12 696.19,186.90 697.26,184.69 698.34,182.52 699.44,180.36 700.55,178.23 701.68,176.13 702.82,174.04 703.97,171.99 705.14,169.96 706.32,167.96 707.51,165.98 708.72,164.04 709.94,162.12 711.17,160.22 712.42,158.36 713.68,156.53 714.96,154.72 716.24,152.94 717.55,151.20 718.86,149.48 720.19,147.79 721.54,146.13 722.89,144.50 724.26,142.90 725.65,141.33 727.05,139.79 728.46,138.28 729.88,136.80 731.32,135.35 732.77,133.93 734.24,132.54 735.72,131.18 737.21,129.85 738.72,128.55 740.24,127.27 741.78,126.02 743.32,124.79 744.89,123.58 746.46,122.40 748.05,121.23 749.65,120.09 751.27,118.96 752.90,117.86 754.54,116.76 756.20,115.69 757.87,114.63 759.55,113.59 761.25,112.56 762.96,111.54 764.69,110.53 766.43,109.54 768.18,108.56 769.95,107.58 771.73,106.62 773.52,105.67 775.33,104.72 777.15,103.78 778.98,102.85 780.83,101.93 782.69,101.01 784.57,100.10 786.46,99.19 788.36,98.29 790.28,97.39 792.21,96.50 794.15,95.61 796.11,94.72 798.08,93.84 800.06,92.96 802.06,92.08 804.07,91.20 806.10,90.33 808.14,89.45 810.19,88.58 812.25,87.71 814.33,86.83 816.43,85.96 818.53,85.09 820.66,84.21 822.79,83.34 824.94,82.46 827.10,81.59" stroke="#0000ff"/>
<polyline points="481.20,37.13 483.38,38.12 485.54,39.11 487.69,40.10 489.82,41.10 491.94,42.11 494.05,43.11 496.14,44.12 498.22,45.14 500.29,46.16 502.34,47.18 504.38,48.21 506.40,49.25 508.41,50.29 510.41,51.33 512.39,52.38 514.36,53.44 516.32,54.50 518.26,55.57 520.19,56.64 522.10,57.72 524.00,58.80 525.89,59.89 527.76,60.99 529.62,62.10 531.47,63.21 533.30,64.33 535.12,65.45 536.93,66.59 538.72,67.73 540.50,68.88 542.26,70.04 544.01,71.20 545.75,72.38 547.47,73.56 549.18,74.76 550.87,75.96 552.55,77.17 554.22,78.39 555.87,79.63 557.52,80.87 559.14,82.12 560.75,83.39 562.35,84.67 563.94,85.96 565.51,87.26 567.07,88.57 568.61,89.90 570.14,91.24 571.66,92.59 573.16,93.96 574.65,95.34 576.13,96.74 577.59,98.15 579.04,99.58 580.47,101.03 581.89,102.49 583.30,103.97 584.69,105.46 586.07,106.98 587.44,108.51 588.79,110.07 590.13,111.64 591.45,113.23 592.76,114.85 594.06,116.49 595.34,118.15 596.61,119.83 597.87,121.53 599.11,123.27 600.34,125.02 601.55,126.80 602.76,128.61 603.94,130.45 605.12,132.32 606.28,134.21 607.42,136.14 608.55,138.09 609.67,140.08 610.78,142.10 611.87,144.15 612.95,146.24 614.01,148.36 615.06,150.51 616.10,152.69 617.12,154.91 618.13,157.15 619.12,159.43 620.10,161.73 621.07,164.06 622.03,166.43 622.97,168.82 623.89,171.23 624.81,173.67 625.70,176.14 626.59,178.63 627.46,181.14 628.32,183.68 629.16,186.23 629.99,188.80 630.81,191.39 631.61,194.00 632.40,196.62 633.18,199.25 633.94,201.89 634.69,204.53 635.42,207.19 636.14,209.84 636.85,212.50 637.54,215.15 638.22,217.80 638.89,220.44 639.54,223.07 640.18,225.69 640.80,228.28 641.41,230.86 642.01,233.41 642.59,235.93 643.16,238.42 643.72,240.88 644.26,243.29 644.79,245.65 645.30,247.97 645.81,250.23 646.29,252.43 646.77,254.57 647.23,256.65 647.67,258.65 648.10,260.57 648.52,262.41 648.93,264.17 649.32,265.84 649.70,267.42 650.06,268.90 650.41,270.29 650.75,271.58 651.07,272.77 651.38,273.86 651.67,274.85 651.95,275.74 652.22,276.53 652.48,277.23 652.72,277.84 652.94,278.37 653.16,278.81 653.35,279.18 653.54,279.49 653.71,279.73 653.87,279.93 654.01,280.08 654.14,280.19 654.26,280.27 654.36,280.32 654.45,280.36 654.53,280.38 654.59,280.39 654.64,280.40 654.67,280.40 654.69,280.40 654.70,280.40 654.71,280.40 654.73,280.40 654.76,280.40 654.81,280.39 654.87,280.38 654.95,280.35 655.03,280.32 655.14,280.26 655.25,280.17 655.38,280.05 655.53,279.89 655.68,279.69 655.85,279.43 656.04,279.11 656.23,278.72 656.45,278.27 656.67,277.73 656.91,277.12 657.16,276.43 657.43,275.66 657.71,274.80 658.00,273.87 658.31,272.85 658.63,271.74 658.96,270.56 659.31,269.29 659.67,267.94 660.05,266.51 660.44,264.99 660.84,263.39 661.25,261.71 661.68,259.94 662.13,258.10 662.58,256.17 663.05,254.16 663.54,252.08 664.04,249.91 664.55,247.67 665.07,245.35 665.61,242.96 666.16,240.50 666.73,237.96 667.31,235.36 667.90,232.68 668.51,229.94 669.13,227.15 669.76,224.35 670.41,221.57 671.07,218.83 671.75,216.17 672.44,213.62 673.14,211.15 673.86,208.72 674.59,206.30 675.33,203.82 676.09,201.30 676.86,198.73 677.64,196.13 678.44,193.51 679.25,190.88 680.07,188.24 680.91,185.62 681.77,183.01 682.63,180.43 683.51,177.87 684.41,175.35 685.31,172.86 686.23,170.40 687.17,167.99 688.11,165.61 689.08,163.28 690.05,160.99 691.04,158.74 692.04,156.55 693.06,154.39 694.09,152.28 695.13,150.21 696.19,148.18 697.26,146.19 698.34,144.23 699.44,142.32 700.55,140.44 701.68,138.59 702.82,136.77 703.97,134.99 705.14,133.24 706.32,131.52 707.51,129.82 708.72,128.16 709.94,126.52 711.17,124.91 712.42,123.33 713.68,121.76 714.96,120.23 716.24,118.71 717.55,117.22 718.86,115.75 720.19,114.30 721.54,112.87 722.89,111.46 724.26,110.06 725.65,108.69 727.05,107.33 728.46,105.99 729.88,104.67 731.32,103.36 732.77,102.07 734.24,100.79 735.72,99.53 737.21,98.28 738.72,97.04 740.24,95.82 741.78,94.61 743.32,93.41 744.89,92.22 746.46,91.05 748.05,89.88 749.65,88.73 751.27,87.58 752.90,86.45 754.54,85.32 756.20,84.20 757.87,83.09 759.55,82.00 761.25,80.90 762.96,79.82 764.69,78.74 766.43,77.68 768.18,76.61 769.95,75.56 771.73,74.51 773.52,73.47 775.33,72.43 777.15,71.40 778.98,70.38 780.83,69.36 782.69,68.35 784.57,67.34 786.46,66.33 788.36,65.34 790.28,64.34 792.21,63.35 794.15,62.37 796.11,61.38 798.08,60.41 800.06,59.43 802.06,58.46 804.07,57.49 806.10,56.53 808.14,55.57 810.19,54.61 812.25,53.66 814.33,52.70 816.43,51.75 818.53,50.81 820.66,49.86 822.79,48.92 824.94,47.98 827.10,47.04" stroke="#00ffff"/>
</g>
<g stroke="#000" stroke-width="2.2" fill="none" stroke-linecap="butt">
<path d="M90 2 V516.6"/>
<path d="M88.9 515.5 H434.5"/>
<path d="M90 11.0 h6"/>
<path d="M90 94.5 h11"/>
<path d="M90 178.6 h6"/>
<path d="M90 262.7 h11"/>
<path d="M90 346.8 h6"/>
<path d="M90 430.9 h11"/>
<path d="M105.1 515.5 v-11"/>
<path d="M183.3 515.5 v-6"/>
<path d="M261.5 515.5 v-11"/>
<path d="M339.7 515.5 v-6"/>
<path d="M417.9 515.5 v-11"/>
<path d="M483.1 2 V516.6"/>
<path d="M482 515.5 H828"/>
<path d="M483.1 16.4 h11"/>
<path d="M483.1 87.6 h6"/>
<path d="M483.1 158.8 h11"/>
<path d="M483.1 230.0 h6"/>
<path d="M483.1 301.2 h11"/>
<path d="M483.1 372.4 h6"/>
<path d="M483.1 443.6 h11"/>
<path d="M498.5 515.5 v-11"/>
<path d="M576.6 515.5 v-6"/>
<path d="M654.8 515.5 v-11"/>
<path d="M732.9 515.5 v-6"/>
<path d="M811.1 515.5 v-11"/>
</g>
<rect x="140.9" y="21.2" width="34.1" height="34.1" fill="#fff" stroke="#000" stroke-width="1.4"/>
<rect x="558.3" y="20.9" width="34.1" height="34.1" fill="#fff" stroke="#000" stroke-width="1.4"/>
<text transform="translate(158.30,50.10) scale(0.93,1)" font-size="29" text-anchor="middle">a</text>
<text transform="translate(576.50,49.30) scale(1.02,1)" font-size="29.5" text-anchor="middle">b</text>
<text transform="translate(78.60,101.90) scale(0.95,1)" font-size="26.0" text-anchor="end">56</text>
<text transform="translate(78.60,270.10) scale(0.95,1)" font-size="26.0" text-anchor="end">54</text>
<text transform="translate(78.60,438.40) scale(0.95,1)" font-size="26.0" text-anchor="end">52</text>
<text transform="translate(471.60,23.80) scale(0.95,1)" font-size="26.0" text-anchor="end">44</text>
<text transform="translate(471.60,166.20) scale(0.95,1)" font-size="26.0" text-anchor="end">43</text>
<text transform="translate(471.60,308.60) scale(0.95,1)" font-size="26.0" text-anchor="end">42</text>
<text transform="translate(471.60,451.00) scale(0.95,1)" font-size="26.0" text-anchor="end">41</text>
<text transform="translate(105.40,545.00) scale(0.932,1)" font-size="26.5" text-anchor="middle">-0.1</text>
<text transform="translate(261.60,545.00) scale(0.932,1)" font-size="26.5" text-anchor="middle">0.0</text>
<text transform="translate(418.00,545.00) scale(0.932,1)" font-size="26.5" text-anchor="middle">0.1</text>
<text transform="translate(498.20,545.00) scale(0.932,1)" font-size="26.5" text-anchor="middle">-0.1</text>
<text transform="translate(654.80,545.00) scale(0.932,1)" font-size="26.5" text-anchor="middle">0.0</text>
<text transform="translate(810.90,545.00) scale(0.932,1)" font-size="26.5" text-anchor="middle">0.1</text>
<text transform="translate(261.90,589.00) scale(0.98,1)" font-size="27.5" text-anchor="middle">B (T)</text>
<text transform="translate(654.80,589.00) scale(0.98,1)" font-size="27.5" text-anchor="middle">B (T)</text>
<text transform="translate(22.3,300) rotate(-90)" font-size="27"><tspan font-size="24">σ</tspan><tspan dx="0.8"> (G</tspan><tspan font-size="16" dy="10">0</tspan><tspan dy="-10">)</tspan></text>
<text transform="translate(104.30,259.80) scale(0.95,1)" font-size="26.0" text-anchor="start">T = 4.2 K</text>
<text transform="translate(203.00,289.85) scale(0.95,1)" font-size="26.0" text-anchor="end">3.0 K</text>
<text transform="translate(203.00,319.90) scale(0.95,1)" font-size="26.0" text-anchor="end">2.5 K</text>
<text transform="translate(203.00,349.95) scale(0.95,1)" font-size="26.0" text-anchor="end">2.2 K</text>
<text transform="translate(203.00,380.00) scale(0.95,1)" font-size="26.0" text-anchor="end">2.0 K</text>
<text transform="translate(203.00,410.05) scale(0.95,1)" font-size="26.0" text-anchor="end">1.7 K</text>
<text transform="translate(209.30,440.10) scale(0.95,1)" font-size="26.0" text-anchor="end">1.35 K</text>
<text transform="translate(516.10,294.20) scale(0.95,1)" font-size="26.0" text-anchor="start">T = 4.2 K</text>
<text transform="translate(614.10,324.25) scale(0.95,1)" font-size="26.0" text-anchor="end">3.0 K</text>
<text transform="translate(614.10,354.30) scale(0.95,1)" font-size="26.0" text-anchor="end">2.5 K</text>
<text transform="translate(614.10,384.35) scale(0.95,1)" font-size="26.0" text-anchor="end">2.0 K</text>
<text transform="translate(614.10,414.40) scale(0.95,1)" font-size="26.0" text-anchor="end">1.4 K</text>
<text transform="translate(282.8,463.2) scale(0.952,1)" font-size="27.8">V<tspan font-size="16.5" dy="10.5">g</tspan><tspan dy="-10.5"> = -2.25 V</tspan></text>
<text transform="translate(697.8,463.2) scale(0.952,1)" font-size="27.8">V<tspan font-size="16.5" dy="10.5">g</tspan><tspan dy="-10.5"> = -2.4 V</tspan></text>
</svg></body></html>
